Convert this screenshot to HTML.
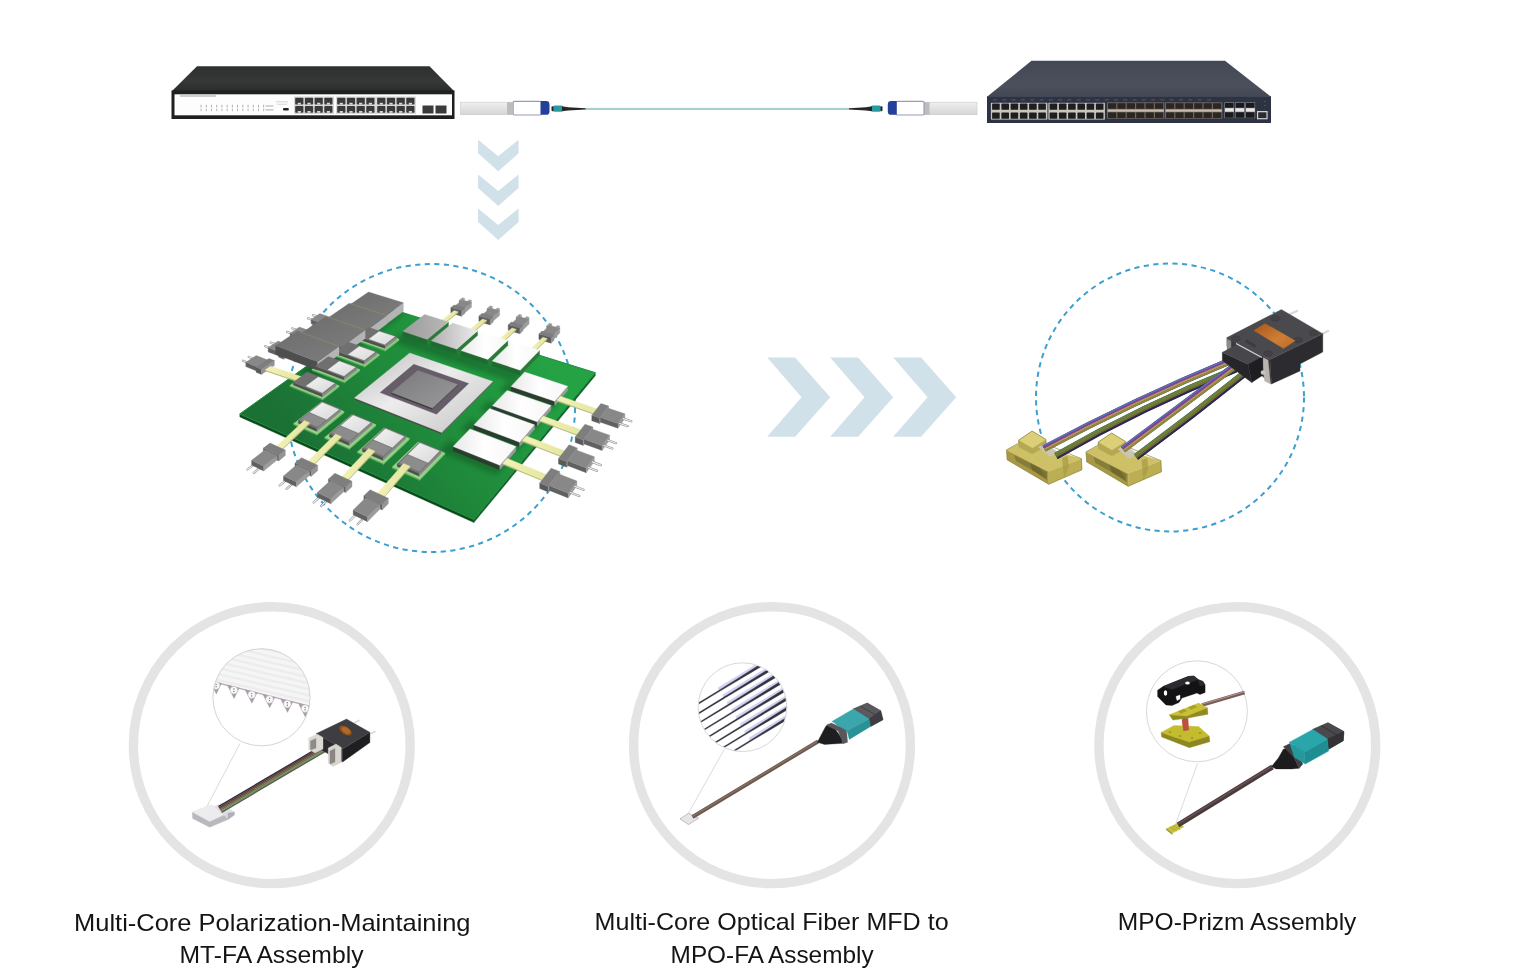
<!DOCTYPE html>
<html><head><meta charset="utf-8"><style>
html,body{margin:0;padding:0;background:#fff;width:1536px;height:980px;overflow:hidden}
svg{display:block;position:absolute;left:0;top:0}
text{font-family:"Liberation Sans",sans-serif}
</style></head><body>
<svg width="1536" height="980" viewBox="0 0 1536 980">
<defs>
<linearGradient id="gTopL" x1="0" y1="0" x2="0" y2="1"><stop offset="0" stop-color="#2e302f"/><stop offset="0.6" stop-color="#363837"/><stop offset="1" stop-color="#2a2b2b"/></linearGradient>
<linearGradient id="gTopR" x1="0" y1="0" x2="0" y2="1"><stop offset="0" stop-color="#434856"/><stop offset="0.7" stop-color="#4c505c"/><stop offset="1" stop-color="#424755"/></linearGradient>
<linearGradient id="gSilver" x1="0" y1="0" x2="0" y2="1"><stop offset="0" stop-color="#f0f0f0"/><stop offset="0.5" stop-color="#e2e2e2"/><stop offset="1" stop-color="#d6d6d6"/></linearGradient>

<linearGradient id="gBoard" gradientUnits="userSpaceOnUse" x1="330" y1="480" x2="520" y2="330"><stop offset="0" stop-color="#1b7034"/><stop offset="0.45" stop-color="#1f8a3b"/><stop offset="1" stop-color="#24a244"/></linearGradient>
<filter id="fSh" x="-20%" y="-20%" width="140%" height="140%"><feGaussianBlur stdDeviation="2.5"/></filter>
<linearGradient id="gChip" x1="0" y1="0" x2="1" y2="1"><stop offset="0" stop-color="#bdbdbd"/><stop offset="0.45" stop-color="#ececec"/><stop offset="1" stop-color="#c4c4c4"/></linearGradient>
<linearGradient id="gDie" x1="0" y1="0" x2="1" y2="1"><stop offset="0" stop-color="#7a7a7c"/><stop offset="1" stop-color="#9a9a9c"/></linearGradient>
<linearGradient id="gWhite" x1="0" y1="0" x2="1" y2="1"><stop offset="0" stop-color="#f4f4f4"/><stop offset="1" stop-color="#d8d8d8"/></linearGradient>
<linearGradient id="gWhite2" x1="0" y1="0" x2="1" y2="0"><stop offset="0" stop-color="#e8e8e8"/><stop offset="0.5" stop-color="#ffffff"/><stop offset="1" stop-color="#f6f6f6"/></linearGradient>
<linearGradient id="gTR1" x1="0" y1="0" x2="1" y2="0"><stop offset="0" stop-color="#9c9c9c"/><stop offset="1" stop-color="#b8b8b8"/></linearGradient>
<linearGradient id="gTR2" x1="0" y1="0" x2="1" y2="0"><stop offset="0" stop-color="#b0b0b0"/><stop offset="1" stop-color="#ececec"/></linearGradient>
<linearGradient id="gHS" x1="0" y1="0" x2="1" y2="1"><stop offset="0" stop-color="#6e6e6e"/><stop offset="1" stop-color="#7c7c7c"/></linearGradient>
<linearGradient id="gFib" x1="0" y1="0" x2="1" y2="0"><stop offset="0" stop-color="#f2f2b6"/><stop offset="1" stop-color="#e4e6a0"/></linearGradient>

<linearGradient id="gOrange" x1="0" y1="0" x2="1" y2="1"><stop offset="0" stop-color="#a8561a"/><stop offset="0.6" stop-color="#cf7f34"/><stop offset="1" stop-color="#b86a28"/></linearGradient>
</defs>
<polygon points="197,66.3 429.5,66.3 454.5,91.5 171.5,91.5" fill="url(#gTopL)"/>
<rect x="171.5" y="90.5" width="283" height="28.5" fill="#1f1f1f"/>
<rect x="174.5" y="94.3" width="277.5" height="21" fill="#fdfdfd"/>
<rect x="180" y="95.6" width="36" height="0.8" fill="#8a8a8a"/>
<rect x="200.6" y="104.8" width="0.9" height="2.6" fill="#a6a6a6"/>
<rect x="200.6" y="108.6" width="0.9" height="2.6" fill="#b0b0b0"/>
<rect x="205.8" y="104.8" width="0.9" height="2.6" fill="#a6a6a6"/>
<rect x="205.8" y="108.6" width="0.9" height="2.6" fill="#b0b0b0"/>
<rect x="211.0" y="104.8" width="0.9" height="2.6" fill="#a6a6a6"/>
<rect x="211.0" y="108.6" width="0.9" height="2.6" fill="#b0b0b0"/>
<rect x="216.3" y="104.8" width="0.9" height="2.6" fill="#a6a6a6"/>
<rect x="216.3" y="108.6" width="0.9" height="2.6" fill="#b0b0b0"/>
<rect x="221.5" y="104.8" width="0.9" height="2.6" fill="#a6a6a6"/>
<rect x="221.5" y="108.6" width="0.9" height="2.6" fill="#b0b0b0"/>
<rect x="226.7" y="104.8" width="0.9" height="2.6" fill="#a6a6a6"/>
<rect x="226.7" y="108.6" width="0.9" height="2.6" fill="#b0b0b0"/>
<rect x="231.9" y="104.8" width="0.9" height="2.6" fill="#a6a6a6"/>
<rect x="231.9" y="108.6" width="0.9" height="2.6" fill="#b0b0b0"/>
<rect x="237.1" y="104.8" width="0.9" height="2.6" fill="#a6a6a6"/>
<rect x="237.1" y="108.6" width="0.9" height="2.6" fill="#b0b0b0"/>
<rect x="242.4" y="104.8" width="0.9" height="2.6" fill="#a6a6a6"/>
<rect x="242.4" y="108.6" width="0.9" height="2.6" fill="#b0b0b0"/>
<rect x="247.6" y="104.8" width="0.9" height="2.6" fill="#a6a6a6"/>
<rect x="247.6" y="108.6" width="0.9" height="2.6" fill="#b0b0b0"/>
<rect x="252.8" y="104.8" width="0.9" height="2.6" fill="#a6a6a6"/>
<rect x="252.8" y="108.6" width="0.9" height="2.6" fill="#b0b0b0"/>
<rect x="258.0" y="104.8" width="0.9" height="2.6" fill="#a6a6a6"/>
<rect x="258.0" y="108.6" width="0.9" height="2.6" fill="#b0b0b0"/>
<rect x="263.2" y="104.8" width="0.9" height="2.6" fill="#a6a6a6"/>
<rect x="263.2" y="108.6" width="0.9" height="2.6" fill="#b0b0b0"/>
<rect x="265.5" y="105.6" width="8" height="0.8" fill="#9a9a9a"/>
<rect x="265.5" y="109.5" width="8" height="0.8" fill="#9a9a9a"/>
<rect x="276" y="101.5" width="12" height="0.7" fill="#c4c4c4"/>
<rect x="277" y="103.8" width="10" height="0.7" fill="#c4c4c4"/>
<rect x="283" y="108" width="5.8" height="2.4" rx="1" fill="#222"/>
<rect x="294" y="96.5" width="40" height="17.5" fill="#d8d8d8"/>
<rect x="295.2" y="97.8" width="8.2" height="6.8" rx="0.8" fill="#3a3a3a"/>
<rect x="297.7" y="102.8" width="3.2" height="1.8" fill="#d8d8d8"/>
<rect x="304.9" y="97.8" width="8.2" height="6.8" rx="0.8" fill="#3a3a3a"/>
<rect x="307.4" y="102.8" width="3.2" height="1.8" fill="#d8d8d8"/>
<rect x="314.6" y="97.8" width="8.2" height="6.8" rx="0.8" fill="#3a3a3a"/>
<rect x="317.1" y="102.8" width="3.2" height="1.8" fill="#d8d8d8"/>
<rect x="324.3" y="97.8" width="8.2" height="6.8" rx="0.8" fill="#3a3a3a"/>
<rect x="326.8" y="102.8" width="3.2" height="1.8" fill="#d8d8d8"/>
<rect x="295.2" y="106.0" width="8.2" height="6.8" rx="0.8" fill="#3a3a3a"/>
<rect x="297.7" y="111.0" width="3.2" height="1.8" fill="#d8d8d8"/>
<rect x="304.9" y="106.0" width="8.2" height="6.8" rx="0.8" fill="#3a3a3a"/>
<rect x="307.4" y="111.0" width="3.2" height="1.8" fill="#d8d8d8"/>
<rect x="314.6" y="106.0" width="8.2" height="6.8" rx="0.8" fill="#3a3a3a"/>
<rect x="317.1" y="111.0" width="3.2" height="1.8" fill="#d8d8d8"/>
<rect x="324.3" y="106.0" width="8.2" height="6.8" rx="0.8" fill="#3a3a3a"/>
<rect x="326.8" y="111.0" width="3.2" height="1.8" fill="#d8d8d8"/>
<rect x="336" y="96.5" width="40" height="17.5" fill="#d8d8d8"/>
<rect x="337.2" y="97.8" width="8.2" height="6.8" rx="0.8" fill="#3a3a3a"/>
<rect x="339.7" y="102.8" width="3.2" height="1.8" fill="#d8d8d8"/>
<rect x="346.9" y="97.8" width="8.2" height="6.8" rx="0.8" fill="#3a3a3a"/>
<rect x="349.4" y="102.8" width="3.2" height="1.8" fill="#d8d8d8"/>
<rect x="356.6" y="97.8" width="8.2" height="6.8" rx="0.8" fill="#3a3a3a"/>
<rect x="359.1" y="102.8" width="3.2" height="1.8" fill="#d8d8d8"/>
<rect x="366.3" y="97.8" width="8.2" height="6.8" rx="0.8" fill="#3a3a3a"/>
<rect x="368.8" y="102.8" width="3.2" height="1.8" fill="#d8d8d8"/>
<rect x="337.2" y="106.0" width="8.2" height="6.8" rx="0.8" fill="#3a3a3a"/>
<rect x="339.7" y="111.0" width="3.2" height="1.8" fill="#d8d8d8"/>
<rect x="346.9" y="106.0" width="8.2" height="6.8" rx="0.8" fill="#3a3a3a"/>
<rect x="349.4" y="111.0" width="3.2" height="1.8" fill="#d8d8d8"/>
<rect x="356.6" y="106.0" width="8.2" height="6.8" rx="0.8" fill="#3a3a3a"/>
<rect x="359.1" y="111.0" width="3.2" height="1.8" fill="#d8d8d8"/>
<rect x="366.3" y="106.0" width="8.2" height="6.8" rx="0.8" fill="#3a3a3a"/>
<rect x="368.8" y="111.0" width="3.2" height="1.8" fill="#d8d8d8"/>
<rect x="376" y="96.5" width="40" height="17.5" fill="#d8d8d8"/>
<rect x="377.2" y="97.8" width="8.2" height="6.8" rx="0.8" fill="#3a3a3a"/>
<rect x="379.7" y="102.8" width="3.2" height="1.8" fill="#d8d8d8"/>
<rect x="386.9" y="97.8" width="8.2" height="6.8" rx="0.8" fill="#3a3a3a"/>
<rect x="389.4" y="102.8" width="3.2" height="1.8" fill="#d8d8d8"/>
<rect x="396.6" y="97.8" width="8.2" height="6.8" rx="0.8" fill="#3a3a3a"/>
<rect x="399.1" y="102.8" width="3.2" height="1.8" fill="#d8d8d8"/>
<rect x="406.3" y="97.8" width="8.2" height="6.8" rx="0.8" fill="#3a3a3a"/>
<rect x="408.8" y="102.8" width="3.2" height="1.8" fill="#d8d8d8"/>
<rect x="377.2" y="106.0" width="8.2" height="6.8" rx="0.8" fill="#3a3a3a"/>
<rect x="379.7" y="111.0" width="3.2" height="1.8" fill="#d8d8d8"/>
<rect x="386.9" y="106.0" width="8.2" height="6.8" rx="0.8" fill="#3a3a3a"/>
<rect x="389.4" y="111.0" width="3.2" height="1.8" fill="#d8d8d8"/>
<rect x="396.6" y="106.0" width="8.2" height="6.8" rx="0.8" fill="#3a3a3a"/>
<rect x="399.1" y="111.0" width="3.2" height="1.8" fill="#d8d8d8"/>
<rect x="406.3" y="106.0" width="8.2" height="6.8" rx="0.8" fill="#3a3a3a"/>
<rect x="408.8" y="111.0" width="3.2" height="1.8" fill="#d8d8d8"/>
<rect x="422.5" y="105.5" width="11" height="8" fill="#3a3a3a"/>
<rect x="435.5" y="105.5" width="11" height="8" fill="#3a3a3a"/>
<polygon points="1031.5,60.8 1225,60.8 1271,96.8 987,96.8" fill="url(#gTopR)"/>
<rect x="987" y="96.3" width="284" height="26.7" fill="#2e3343"/>
<rect x="993.0" y="99.5" width="4" height="0.8" fill="#5c6272"/>
<rect x="1002.3" y="99.5" width="4" height="0.8" fill="#5c6272"/>
<rect x="1011.6" y="99.5" width="4" height="0.8" fill="#5c6272"/>
<rect x="1020.9" y="99.5" width="4" height="0.8" fill="#5c6272"/>
<rect x="1030.2" y="99.5" width="4" height="0.8" fill="#5c6272"/>
<rect x="1039.5" y="99.5" width="4" height="0.8" fill="#5c6272"/>
<rect x="1048.8" y="99.5" width="4" height="0.8" fill="#5c6272"/>
<rect x="1058.1" y="99.5" width="4" height="0.8" fill="#5c6272"/>
<rect x="1067.4" y="99.5" width="4" height="0.8" fill="#5c6272"/>
<rect x="1076.7" y="99.5" width="4" height="0.8" fill="#5c6272"/>
<rect x="1086.0" y="99.5" width="4" height="0.8" fill="#5c6272"/>
<rect x="1095.3" y="99.5" width="4" height="0.8" fill="#5c6272"/>
<rect x="1104.6" y="99.5" width="4" height="0.8" fill="#5c6272"/>
<rect x="1113.9" y="99.5" width="4" height="0.8" fill="#5c6272"/>
<rect x="1123.2" y="99.5" width="4" height="0.8" fill="#5c6272"/>
<rect x="1132.5" y="99.5" width="4" height="0.8" fill="#5c6272"/>
<rect x="1141.8" y="99.5" width="4" height="0.8" fill="#5c6272"/>
<rect x="1151.1" y="99.5" width="4" height="0.8" fill="#5c6272"/>
<rect x="1160.4" y="99.5" width="4" height="0.8" fill="#5c6272"/>
<rect x="1169.7" y="99.5" width="4" height="0.8" fill="#5c6272"/>
<rect x="1179.0" y="99.5" width="4" height="0.8" fill="#5c6272"/>
<rect x="1188.3" y="99.5" width="4" height="0.8" fill="#5c6272"/>
<rect x="1197.6" y="99.5" width="4" height="0.8" fill="#5c6272"/>
<rect x="1206.9" y="99.5" width="4" height="0.8" fill="#5c6272"/>
<rect x="990.9" y="102.8" width="56.5" height="16.8" fill="#c9c6bb"/>
<rect x="992.1" y="103.6" width="7.6" height="6.2" rx="0.6" fill="#1e1e22"/>
<rect x="1001.4" y="103.6" width="7.6" height="6.2" rx="0.6" fill="#1e1e22"/>
<rect x="1010.6" y="103.6" width="7.6" height="6.2" rx="0.6" fill="#1e1e22"/>
<rect x="1019.9" y="103.6" width="7.6" height="6.2" rx="0.6" fill="#1e1e22"/>
<rect x="1029.1" y="103.6" width="7.6" height="6.2" rx="0.6" fill="#1e1e22"/>
<rect x="1038.3" y="103.6" width="7.6" height="6.2" rx="0.6" fill="#1e1e22"/>
<rect x="992.1" y="112.6" width="7.6" height="6.2" rx="0.6" fill="#1e1e22"/>
<rect x="1001.4" y="112.6" width="7.6" height="6.2" rx="0.6" fill="#1e1e22"/>
<rect x="1010.6" y="112.6" width="7.6" height="6.2" rx="0.6" fill="#1e1e22"/>
<rect x="1019.9" y="112.6" width="7.6" height="6.2" rx="0.6" fill="#1e1e22"/>
<rect x="1029.1" y="112.6" width="7.6" height="6.2" rx="0.6" fill="#1e1e22"/>
<rect x="1038.3" y="112.6" width="7.6" height="6.2" rx="0.6" fill="#1e1e22"/>
<rect x="1048.4" y="102.8" width="56.5" height="16.8" fill="#c9c6bb"/>
<rect x="1049.6" y="103.6" width="7.6" height="6.2" rx="0.6" fill="#1e1e22"/>
<rect x="1058.9" y="103.6" width="7.6" height="6.2" rx="0.6" fill="#1e1e22"/>
<rect x="1068.1" y="103.6" width="7.6" height="6.2" rx="0.6" fill="#1e1e22"/>
<rect x="1077.4" y="103.6" width="7.6" height="6.2" rx="0.6" fill="#1e1e22"/>
<rect x="1086.6" y="103.6" width="7.6" height="6.2" rx="0.6" fill="#1e1e22"/>
<rect x="1095.9" y="103.6" width="7.6" height="6.2" rx="0.6" fill="#1e1e22"/>
<rect x="1049.6" y="112.6" width="7.6" height="6.2" rx="0.6" fill="#1e1e22"/>
<rect x="1058.9" y="112.6" width="7.6" height="6.2" rx="0.6" fill="#1e1e22"/>
<rect x="1068.1" y="112.6" width="7.6" height="6.2" rx="0.6" fill="#1e1e22"/>
<rect x="1077.4" y="112.6" width="7.6" height="6.2" rx="0.6" fill="#1e1e22"/>
<rect x="1086.6" y="112.6" width="7.6" height="6.2" rx="0.6" fill="#1e1e22"/>
<rect x="1095.9" y="112.6" width="7.6" height="6.2" rx="0.6" fill="#1e1e22"/>
<rect x="1107" y="102.3" width="57.3" height="16.4" fill="#6f6760"/>
<rect x="1108.0" y="103.2" width="8.2" height="5.6" fill="#2c2622"/>
<rect x="1117.4" y="103.2" width="8.2" height="5.6" fill="#2c2622"/>
<rect x="1126.8" y="103.2" width="8.2" height="5.6" fill="#2c2622"/>
<rect x="1136.2" y="103.2" width="8.2" height="5.6" fill="#2c2622"/>
<rect x="1145.6" y="103.2" width="8.2" height="5.6" fill="#2c2622"/>
<rect x="1155.0" y="103.2" width="8.2" height="5.6" fill="#2c2622"/>
<rect x="1108.0" y="112.4" width="8.2" height="5.6" fill="#2c2622"/>
<rect x="1117.4" y="112.4" width="8.2" height="5.6" fill="#2c2622"/>
<rect x="1126.8" y="112.4" width="8.2" height="5.6" fill="#2c2622"/>
<rect x="1136.2" y="112.4" width="8.2" height="5.6" fill="#2c2622"/>
<rect x="1145.6" y="112.4" width="8.2" height="5.6" fill="#2c2622"/>
<rect x="1155.0" y="112.4" width="8.2" height="5.6" fill="#2c2622"/>
<rect x="1107.5" y="109.5" width="56.3" height="2.2" fill="#c8beb0"/>
<rect x="1165" y="102.3" width="57.3" height="16.4" fill="#6f6760"/>
<rect x="1166.0" y="103.2" width="8.2" height="5.6" fill="#2c2622"/>
<rect x="1175.4" y="103.2" width="8.2" height="5.6" fill="#2c2622"/>
<rect x="1184.8" y="103.2" width="8.2" height="5.6" fill="#2c2622"/>
<rect x="1194.2" y="103.2" width="8.2" height="5.6" fill="#2c2622"/>
<rect x="1203.6" y="103.2" width="8.2" height="5.6" fill="#2c2622"/>
<rect x="1213.0" y="103.2" width="8.2" height="5.6" fill="#2c2622"/>
<rect x="1166.0" y="112.4" width="8.2" height="5.6" fill="#2c2622"/>
<rect x="1175.4" y="112.4" width="8.2" height="5.6" fill="#2c2622"/>
<rect x="1184.8" y="112.4" width="8.2" height="5.6" fill="#2c2622"/>
<rect x="1194.2" y="112.4" width="8.2" height="5.6" fill="#2c2622"/>
<rect x="1203.6" y="112.4" width="8.2" height="5.6" fill="#2c2622"/>
<rect x="1213.0" y="112.4" width="8.2" height="5.6" fill="#2c2622"/>
<rect x="1165.5" y="109.5" width="56.3" height="2.2" fill="#c8beb0"/>
<rect x="1224.5" y="102.3" width="9.6" height="15.8" fill="#9a9a9e"/>
<rect x="1225.0" y="102.8" width="8.6" height="5" fill="#1a1a1e"/>
<rect x="1225.0" y="108.3" width="8.6" height="3.2" fill="#e8e6e2"/>
<rect x="1225.0" y="112.2" width="8.6" height="5.6" fill="#1a1a1e"/>
<rect x="1235.0" y="102.3" width="9.6" height="15.8" fill="#9a9a9e"/>
<rect x="1235.5" y="102.8" width="8.6" height="5" fill="#1a1a1e"/>
<rect x="1235.5" y="108.3" width="8.6" height="3.2" fill="#e8e6e2"/>
<rect x="1235.5" y="112.2" width="8.6" height="5.6" fill="#1a1a1e"/>
<rect x="1245.5" y="102.3" width="9.6" height="15.8" fill="#9a9a9e"/>
<rect x="1246.0" y="102.8" width="8.6" height="5" fill="#1a1a1e"/>
<rect x="1246.0" y="108.3" width="8.6" height="3.2" fill="#e8e6e2"/>
<rect x="1246.0" y="112.2" width="8.6" height="5.6" fill="#1a1a1e"/>
<rect x="1257" y="111" width="10.6" height="8.3" fill="#cfcfd2"/>
<rect x="1258.2" y="112.3" width="8.2" height="5.8" fill="#2a2a30"/>
<circle cx="1265" cy="101.5" r="0.6" fill="#777"/><circle cx="1265" cy="105.5" r="0.6" fill="#777"/>
<rect x="585" y="107.9" width="264.5" height="2.1" fill="#a4cfd0"/>
<rect x="460.4" y="102.2" width="52.5" height="12.5" fill="url(#gSilver)" stroke="#c8c8c8" stroke-width="0.6"/>
<rect x="507" y="102.2" width="5.5" height="12.5" fill="#bdbdbd"/>
<rect x="513.2" y="101.4" width="28" height="13.6" rx="1.2" fill="#fff" stroke="#9a9ab8" stroke-width="1.1"/>
<path d="M540.6,101 h5.5 a3.4,3.4 0 0 1 3.4,3.4 v7 a3.4,3.4 0 0 1 -3.4,3.4 h-5.5 z" fill="#23409a"/>
<rect x="551.5" y="106.2" width="2.5" height="5" rx="1" fill="#2a2a2a"/>
<rect x="553.5" y="105.6" width="9" height="6.2" rx="1" fill="#2a9aa2"/>
<path d="M562,106.3 L568,107.3 L585.5,108.3 L585.5,109.4 L568,110.6 L562,111.2 z" fill="#262626"/>
<rect x="924" y="102.2" width="53" height="12.5" fill="url(#gSilver)" stroke="#c8c8c8" stroke-width="0.6"/>
<rect x="924" y="102.2" width="5.5" height="12.5" fill="#bdbdbd"/>
<rect x="896" y="101.4" width="28" height="13.6" rx="1.2" fill="#fff" stroke="#9a9ab8" stroke-width="1.1"/>
<path d="M896.7,101 h-5.5 a3.4,3.4 0 0 0 -3.4,3.4 v7 a3.4,3.4 0 0 0 3.4,3.4 h5.5 z" fill="#23409a"/>
<rect x="880" y="106.2" width="2.5" height="5" rx="1" fill="#2a2a2a"/>
<rect x="871.5" y="105.6" width="9" height="6.2" rx="1" fill="#2a9aa2"/>
<path d="M872,106.3 L866,107.3 L849,108.3 L849,109.4 L866,110.6 L872,111.2 z" fill="#262626"/>
<polygon points="478.1,139.8 498.2,156.3 518.6,139.8 518.6,153.3 498.2,171.3 478.1,153.3" fill="#d0e1e9"/>
<polygon points="478.1,174.5 498.2,191.0 518.6,174.5 518.6,188.0 498.2,206.0 478.1,188.0" fill="#d0e1e9"/>
<polygon points="478.1,208.5 498.2,225.0 518.6,208.5 518.6,222.0 498.2,240.0 478.1,222.0" fill="#d0e1e9"/>
<polygon points="767.2,357.5 795.1,357.5 830.2,397.3 795.1,436.7 767.2,436.7 801.6,397.3" fill="#d0e1e9"/>
<polygon points="830.2,357.5 858.1,357.5 893.2,397.3 858.1,436.7 830.2,436.7 864.6,397.3" fill="#d0e1e9"/>
<polygon points="893.2,357.5 921.1,357.5 956.2,397.3 921.1,436.7 893.2,436.7 927.6,397.3" fill="#d0e1e9"/>
<clipPath id="cBoard"><polygon points="239.8,413.9 473.9,519.6 595.3,372.7 388.0,308.0" fill="#000" stroke="#000" stroke-width="0.35" stroke-linejoin="round"/></clipPath><circle cx="431" cy="408" r="144" fill="none" stroke="#3d9fd0" stroke-width="2" stroke-dasharray="5.2 4.4"/>
<polygon points="239.8,413.9 473.9,519.6 473.9,522.6 239.8,416.9" fill="#0c4a1c" stroke="#0c4a1c" stroke-width="0.35" stroke-linejoin="round"/>
<polygon points="473.9,519.6 595.3,372.7 595.3,375.7 473.9,522.6" fill="#10602a" stroke="#10602a" stroke-width="0.35" stroke-linejoin="round"/>
<polygon points="239.8,413.9 473.9,519.6 595.3,372.7 388.0,308.0" fill="url(#gBoard)" stroke="#1d8a38" stroke-width="1" stroke-linejoin="round"/>
<g clip-path="url(#cBoard)" filter="url(#fSh)" opacity="0.35">
<polygon points="499.3,390.4 552.4,408.9 560.0,399.9 507.5,382.0" fill="#0a3a18" stroke="#0a3a18" stroke-width="0.35" stroke-linejoin="round"/>
<polygon points="480.1,410.0 534.5,429.9 542.7,420.2 489.0,401.0" fill="#0a3a18" stroke="#0a3a18" stroke-width="0.35" stroke-linejoin="round"/>
<polygon points="461.1,429.5 516.6,451.0 525.5,440.6 470.5,419.8" fill="#0a3a18" stroke="#0a3a18" stroke-width="0.35" stroke-linejoin="round"/>
<polygon points="439.6,451.5 496.4,474.8 506.0,463.5 449.8,441.1" fill="#0a3a18" stroke="#0a3a18" stroke-width="0.35" stroke-linejoin="round"/>
<polygon points="393.3,341.6 420.8,350.9 430.7,342.7 403.4,333.8" fill="#0a3a18" stroke="#0a3a18" stroke-width="0.35" stroke-linejoin="round"/>
<polygon points="421.8,351.2 450.6,360.9 460.2,352.4 431.7,343.1" fill="#0a3a18" stroke="#0a3a18" stroke-width="0.35" stroke-linejoin="round"/>
<polygon points="451.7,361.3 481.8,371.5 491.2,362.6 461.3,352.8" fill="#0a3a18" stroke="#0a3a18" stroke-width="0.35" stroke-linejoin="round"/>
<polygon points="483.0,371.9 514.6,382.6 523.6,373.3 492.2,363.0" fill="#0a3a18" stroke="#0a3a18" stroke-width="0.35" stroke-linejoin="round"/>
<polygon points="300.5,370.5 317.6,377.2 404.2,313.1 388.0,308.0" fill="#0a3a18" stroke="#0a3a18" stroke-width="0.35" stroke-linejoin="round"/>
</g>
<polygon points="354.4,399.5 441.5,434.0 441.5,432.4 354.4,397.9" fill="#4a4a4a" stroke="#4a4a4a" stroke-width="0.35" stroke-linejoin="round"/>
<polygon points="441.5,434.0 492.8,383.0 492.8,381.4 441.5,432.4" fill="#6a6a6a" stroke="#6a6a6a" stroke-width="0.35" stroke-linejoin="round"/>
<polygon points="354.4,397.9 441.5,432.4 492.8,381.4 409.7,353.0" fill="url(#gChip)" stroke="url(#gChip)" stroke-width="0.35" stroke-linejoin="round"/>
<polygon points="380.1,392.6 436.5,414.2 468.7,383.5 413.8,364.3" fill="#675d69" stroke="#675d69" stroke-width="0.35" stroke-linejoin="round"/>
<polygon points="391.7,394.0 432.4,409.4 432.4,408.0 391.7,392.6" fill="#3c383e" stroke="#3c383e" stroke-width="0.35" stroke-linejoin="round"/>
<polygon points="432.4,409.4 457.6,385.9 457.6,384.5 432.4,408.0" fill="#55505a" stroke="#55505a" stroke-width="0.35" stroke-linejoin="round"/>
<polygon points="391.7,392.6 432.4,408.0 457.6,384.5 417.8,370.4" fill="url(#gDie)" stroke="url(#gDie)" stroke-width="0.35" stroke-linejoin="round"/>
<polygon points="459.2,302.5 461.4,303.2 461.4,301.0 459.2,300.3" fill="#707070" stroke="#707070" stroke-width="0.35" stroke-linejoin="round"/>
<polygon points="461.4,303.2 464.6,300.6 464.6,298.4 461.4,301.0" fill="#a8a8a8" stroke="#a8a8a8" stroke-width="0.35" stroke-linejoin="round"/>
<polygon points="459.2,300.3 461.4,301.0 464.6,298.4 462.4,297.7" fill="#9a9a9a" stroke="#9a9a9a" stroke-width="0.35" stroke-linejoin="round"/>
<polygon points="466.0,304.5 468.3,305.2 468.3,303.0 466.0,302.3" fill="#707070" stroke="#707070" stroke-width="0.35" stroke-linejoin="round"/>
<polygon points="468.3,305.2 471.5,302.6 471.5,300.4 468.3,303.0" fill="#a8a8a8" stroke="#a8a8a8" stroke-width="0.35" stroke-linejoin="round"/>
<polygon points="466.0,302.3 468.3,303.0 471.5,300.4 469.2,299.7" fill="#9a9a9a" stroke="#9a9a9a" stroke-width="0.35" stroke-linejoin="round"/>
<polygon points="454.9,310.7 464.0,313.4 464.0,308.7 454.9,306.0" fill="#606060" stroke="#606060" stroke-width="0.35" stroke-linejoin="round"/>
<polygon points="464.0,313.4 471.5,307.3 471.5,302.6 464.0,308.7" fill="#9c9c9c" stroke="#9c9c9c" stroke-width="0.35" stroke-linejoin="round"/>
<polygon points="454.9,306.0 464.0,308.7 471.5,302.6 462.4,299.9" fill="#888888" stroke="#888888" stroke-width="0.35" stroke-linejoin="round"/>
<polygon points="450.8,313.1 461.5,316.3 461.5,310.8 450.8,307.6" fill="#5a5a5a" stroke="#5a5a5a" stroke-width="0.35" stroke-linejoin="round"/>
<polygon points="461.5,316.3 464.8,313.6 464.8,308.1 461.5,310.8" fill="#949494" stroke="#949494" stroke-width="0.35" stroke-linejoin="round"/>
<polygon points="450.8,307.6 461.5,310.8 464.8,308.1 454.1,304.9" fill="#7e7e7e" stroke="#7e7e7e" stroke-width="0.35" stroke-linejoin="round"/>
<polygon points="442.3,324.1 458.1,311.7 458.1,312.9 442.3,325.3" fill="#b9b878" stroke="#b9b878" stroke-width="0.35" stroke-linejoin="round"/><polygon points="438.5,322.8 442.3,324.1 458.1,311.7 454.2,310.6" fill="url(#gFib)" stroke="url(#gFib)" stroke-width="0.35" stroke-linejoin="round"/>
<polygon points="487.1,310.7 489.4,311.4 489.4,309.2 487.1,308.5" fill="#707070" stroke="#707070" stroke-width="0.35" stroke-linejoin="round"/>
<polygon points="489.4,311.4 492.5,308.7 492.5,306.5 489.4,309.2" fill="#a8a8a8" stroke="#a8a8a8" stroke-width="0.35" stroke-linejoin="round"/>
<polygon points="487.1,308.5 489.4,309.2 492.5,306.5 490.2,305.8" fill="#9a9a9a" stroke="#9a9a9a" stroke-width="0.35" stroke-linejoin="round"/>
<polygon points="494.2,312.8 496.6,313.5 496.6,311.3 494.2,310.6" fill="#707070" stroke="#707070" stroke-width="0.35" stroke-linejoin="round"/>
<polygon points="496.6,313.5 499.6,310.8 499.6,308.6 496.6,311.3" fill="#a8a8a8" stroke="#a8a8a8" stroke-width="0.35" stroke-linejoin="round"/>
<polygon points="494.2,310.6 496.6,311.3 499.6,308.6 497.3,307.9" fill="#9a9a9a" stroke="#9a9a9a" stroke-width="0.35" stroke-linejoin="round"/>
<polygon points="482.9,319.0 492.4,321.8 492.4,317.1 482.9,314.3" fill="#606060" stroke="#606060" stroke-width="0.35" stroke-linejoin="round"/>
<polygon points="492.4,321.8 499.6,315.5 499.6,310.8 492.4,317.1" fill="#9c9c9c" stroke="#9c9c9c" stroke-width="0.35" stroke-linejoin="round"/>
<polygon points="482.9,314.3 492.4,317.1 499.6,310.8 490.2,308.0" fill="#888888" stroke="#888888" stroke-width="0.35" stroke-linejoin="round"/>
<polygon points="478.9,321.5 490.1,324.9 490.1,319.4 478.9,316.0" fill="#5a5a5a" stroke="#5a5a5a" stroke-width="0.35" stroke-linejoin="round"/>
<polygon points="490.1,324.9 493.2,322.1 493.2,316.6 490.1,319.4" fill="#949494" stroke="#949494" stroke-width="0.35" stroke-linejoin="round"/>
<polygon points="478.9,316.0 490.1,319.4 493.2,316.6 482.1,313.3" fill="#7e7e7e" stroke="#7e7e7e" stroke-width="0.35" stroke-linejoin="round"/>
<polygon points="351.0,312.4 386.4,323.9 386.4,315.4 351.0,303.9" fill="#4e4e4e" stroke="#4e4e4e" stroke-width="0.35" stroke-linejoin="round"/>
<polygon points="386.4,323.9 403.4,311.3 403.4,302.8 386.4,315.4" fill="#b4b4b4" stroke="#b4b4b4" stroke-width="0.35" stroke-linejoin="round"/>
<polygon points="351.0,303.9 386.4,315.4 403.4,302.8 368.5,292.0" fill="url(#gHS)" stroke="url(#gHS)" stroke-width="0.35" stroke-linejoin="round"/>
<line x1="313.0" y1="320.1" x2="307.9" y2="318.3" stroke="#8a8a8a" stroke-width="2.2" stroke-linecap="round"/><line x1="313.0" y1="320.1" x2="307.9" y2="318.3" stroke="#eeeeee" stroke-width="1.2" stroke-linecap="round"/><line x1="317.9" y1="316.9" x2="312.9" y2="315.1" stroke="#8a8a8a" stroke-width="2.2" stroke-linecap="round"/><line x1="317.9" y1="316.9" x2="312.9" y2="315.1" stroke="#eeeeee" stroke-width="1.2" stroke-linecap="round"/>
<polygon points="311.1,323.7 322.3,327.6 322.3,323.3 311.1,319.4" fill="#606060" stroke="#606060" stroke-width="0.35" stroke-linejoin="round"/>
<polygon points="322.3,327.6 331.0,321.7 331.0,317.4 322.3,323.3" fill="#9c9c9c" stroke="#9c9c9c" stroke-width="0.35" stroke-linejoin="round"/>
<polygon points="311.1,319.4 322.3,323.3 331.0,317.4 319.8,313.6" fill="#888888" stroke="#888888" stroke-width="0.35" stroke-linejoin="round"/>
<polygon points="321.2,328.3 326.5,330.1 326.5,325.1 321.2,323.3" fill="#5a5a5a" stroke="#5a5a5a" stroke-width="0.35" stroke-linejoin="round"/>
<polygon points="326.5,330.1 337.3,322.7 337.3,317.7 326.5,325.1" fill="#949494" stroke="#949494" stroke-width="0.35" stroke-linejoin="round"/>
<polygon points="321.2,323.3 326.5,325.1 337.3,317.7 332.1,316.0" fill="#7e7e7e" stroke="#7e7e7e" stroke-width="0.35" stroke-linejoin="round"/>
<polygon points="471.2,333.1 486.5,320.3 486.5,321.5 471.2,334.3" fill="#b9b878" stroke="#b9b878" stroke-width="0.35" stroke-linejoin="round"/><polygon points="467.1,331.8 471.2,333.1 486.5,320.3 482.5,319.1" fill="url(#gFib)" stroke="url(#gFib)" stroke-width="0.35" stroke-linejoin="round"/>
<polygon points="402.8,336.3 427.2,344.4 427.2,339.4 402.8,331.3" fill="#1f6a30" stroke="#1f6a30" stroke-width="0.35" stroke-linejoin="round"/>
<polygon points="427.2,344.4 448.5,326.9 448.5,321.9 427.2,339.4" fill="#2c7a3a" stroke="#2c7a3a" stroke-width="0.35" stroke-linejoin="round"/>
<polygon points="402.8,331.3 427.2,339.4 448.5,321.9 424.6,314.4" fill="url(#gTR1)" stroke="url(#gTR1)" stroke-width="0.35" stroke-linejoin="round"/>
<polygon points="516.2,319.3 518.6,320.0 518.6,317.8 516.2,317.1" fill="#707070" stroke="#707070" stroke-width="0.35" stroke-linejoin="round"/>
<polygon points="518.6,320.0 521.6,317.2 521.6,315.0 518.6,317.8" fill="#a8a8a8" stroke="#a8a8a8" stroke-width="0.35" stroke-linejoin="round"/>
<polygon points="516.2,317.1 518.6,317.8 521.6,315.0 519.2,314.3" fill="#9a9a9a" stroke="#9a9a9a" stroke-width="0.35" stroke-linejoin="round"/>
<polygon points="523.6,321.4 526.1,322.2 526.1,320.0 523.6,319.2" fill="#707070" stroke="#707070" stroke-width="0.35" stroke-linejoin="round"/>
<polygon points="526.1,322.2 529.1,319.4 529.1,317.2 526.1,320.0" fill="#a8a8a8" stroke="#a8a8a8" stroke-width="0.35" stroke-linejoin="round"/>
<polygon points="523.6,319.2 526.1,320.0 529.1,317.2 526.6,316.4" fill="#9a9a9a" stroke="#9a9a9a" stroke-width="0.35" stroke-linejoin="round"/>
<polygon points="512.1,327.7 522.1,330.7 522.1,326.0 512.1,323.0" fill="#606060" stroke="#606060" stroke-width="0.35" stroke-linejoin="round"/>
<polygon points="522.1,330.7 529.1,324.1 529.1,319.4 522.1,326.0" fill="#9c9c9c" stroke="#9c9c9c" stroke-width="0.35" stroke-linejoin="round"/>
<polygon points="512.1,323.0 522.1,326.0 529.1,319.4 519.2,316.5" fill="#888888" stroke="#888888" stroke-width="0.35" stroke-linejoin="round"/>
<polygon points="508.2,330.3 519.9,333.8 519.9,328.3 508.2,324.8" fill="#5a5a5a" stroke="#5a5a5a" stroke-width="0.35" stroke-linejoin="round"/>
<polygon points="519.9,333.8 522.9,330.9 522.9,325.4 519.9,328.3" fill="#949494" stroke="#949494" stroke-width="0.35" stroke-linejoin="round"/>
<polygon points="508.2,324.8 519.9,328.3 522.9,325.4 511.3,322.0" fill="#7e7e7e" stroke="#7e7e7e" stroke-width="0.35" stroke-linejoin="round"/>
<polygon points="501.4,342.6 516.1,329.2 516.1,330.4 501.4,343.8" fill="#b9b878" stroke="#b9b878" stroke-width="0.35" stroke-linejoin="round"/><polygon points="497.1,341.3 501.4,342.6 516.1,329.2 512.0,327.9" fill="url(#gFib)" stroke="url(#gFib)" stroke-width="0.35" stroke-linejoin="round"/>
<polygon points="431.2,345.7 456.8,354.2 456.8,349.2 431.2,340.7" fill="#1f6a30" stroke="#1f6a30" stroke-width="0.35" stroke-linejoin="round"/>
<polygon points="456.8,354.2 477.5,335.9 477.5,330.9 456.8,349.2" fill="#2c7a3a" stroke="#2c7a3a" stroke-width="0.35" stroke-linejoin="round"/>
<polygon points="431.2,340.7 456.8,349.2 477.5,330.9 452.5,323.1" fill="url(#gTR2)" stroke="url(#gTR2)" stroke-width="0.35" stroke-linejoin="round"/>
<polygon points="328.6,325.9 366.5,338.9 366.5,330.4 328.6,317.4" fill="#4e4e4e" stroke="#4e4e4e" stroke-width="0.35" stroke-linejoin="round"/>
<polygon points="366.5,338.9 386.8,324.0 386.8,315.5 366.5,330.4" fill="#b4b4b4" stroke="#b4b4b4" stroke-width="0.35" stroke-linejoin="round"/>
<polygon points="328.6,317.4 366.5,330.4 386.8,315.5 349.3,303.3" fill="url(#gHS)" stroke="url(#gHS)" stroke-width="0.35" stroke-linejoin="round"/>
<line x1="292.2" y1="333.8" x2="287.0" y2="331.9" stroke="#8a8a8a" stroke-width="2.2" stroke-linecap="round"/><line x1="292.2" y1="333.8" x2="287.0" y2="331.9" stroke="#eeeeee" stroke-width="1.2" stroke-linecap="round"/><line x1="297.4" y1="330.4" x2="292.3" y2="328.5" stroke="#8a8a8a" stroke-width="2.2" stroke-linecap="round"/><line x1="297.4" y1="330.4" x2="292.3" y2="328.5" stroke="#eeeeee" stroke-width="1.2" stroke-linecap="round"/>
<polygon points="290.1,337.5 301.5,341.6 301.5,337.3 290.1,333.2" fill="#606060" stroke="#606060" stroke-width="0.35" stroke-linejoin="round"/>
<polygon points="301.5,341.6 310.7,335.4 310.7,331.1 301.5,337.3" fill="#9c9c9c" stroke="#9c9c9c" stroke-width="0.35" stroke-linejoin="round"/>
<polygon points="290.1,333.2 301.5,337.3 310.7,331.1 299.4,327.1" fill="#888888" stroke="#888888" stroke-width="0.35" stroke-linejoin="round"/>
<line x1="351.0" y1="303.9" x2="385.9" y2="315.2" stroke="#8c8a6c" stroke-width="0.9" opacity="0.8"/>
<polygon points="546.6,328.2 549.2,329.0 549.2,326.8 546.6,326.0" fill="#707070" stroke="#707070" stroke-width="0.35" stroke-linejoin="round"/>
<polygon points="549.2,329.0 552.0,326.1 552.0,323.9 549.2,326.8" fill="#a8a8a8" stroke="#a8a8a8" stroke-width="0.35" stroke-linejoin="round"/>
<polygon points="546.6,326.0 549.2,326.8 552.0,323.9 549.5,323.1" fill="#9a9a9a" stroke="#9a9a9a" stroke-width="0.35" stroke-linejoin="round"/>
<polygon points="554.3,330.5 556.9,331.3 556.9,329.1 554.3,328.3" fill="#707070" stroke="#707070" stroke-width="0.35" stroke-linejoin="round"/>
<polygon points="556.9,331.3 559.8,328.3 559.8,326.1 556.9,329.1" fill="#a8a8a8" stroke="#a8a8a8" stroke-width="0.35" stroke-linejoin="round"/>
<polygon points="554.3,328.3 556.9,329.1 559.8,326.1 557.2,325.4" fill="#9a9a9a" stroke="#9a9a9a" stroke-width="0.35" stroke-linejoin="round"/>
<polygon points="300.3,342.4 305.7,344.3 305.7,339.3 300.3,337.4" fill="#5a5a5a" stroke="#5a5a5a" stroke-width="0.35" stroke-linejoin="round"/>
<polygon points="305.7,344.3 317.1,336.5 317.1,331.5 305.7,339.3" fill="#949494" stroke="#949494" stroke-width="0.35" stroke-linejoin="round"/>
<polygon points="300.3,337.4 305.7,339.3 317.1,331.5 311.8,329.6" fill="#7e7e7e" stroke="#7e7e7e" stroke-width="0.35" stroke-linejoin="round"/>
<polygon points="542.7,336.8 553.1,339.9 553.1,335.2 542.7,332.1" fill="#606060" stroke="#606060" stroke-width="0.35" stroke-linejoin="round"/>
<polygon points="553.1,339.9 559.8,333.0 559.8,328.3 553.1,335.2" fill="#9c9c9c" stroke="#9c9c9c" stroke-width="0.35" stroke-linejoin="round"/>
<polygon points="542.7,332.1 553.1,335.2 559.8,328.3 549.5,325.3" fill="#888888" stroke="#888888" stroke-width="0.35" stroke-linejoin="round"/>
<polygon points="353.7,340.3 385.1,351.2 385.1,349.9 353.7,339.0" fill="#4ea452" stroke="#4ea452" stroke-width="0.35" stroke-linejoin="round"/>
<polygon points="385.1,351.2 399.0,340.4 399.0,339.1 385.1,349.9" fill="#78c670" stroke="#78c670" stroke-width="0.35" stroke-linejoin="round"/>
<polygon points="353.7,339.0 385.1,349.9 399.0,339.1 368.0,328.7" fill="#96d688" stroke="#96d688" stroke-width="0.35" stroke-linejoin="round"/>
<polygon points="538.9,339.5 551.1,343.2 551.1,337.7 538.9,334.0" fill="#5a5a5a" stroke="#5a5a5a" stroke-width="0.35" stroke-linejoin="round"/>
<polygon points="551.1,343.2 554.0,340.2 554.0,334.7 551.1,337.7" fill="#949494" stroke="#949494" stroke-width="0.35" stroke-linejoin="round"/>
<polygon points="538.9,334.0 551.1,337.7 554.0,334.7 541.8,331.1" fill="#7e7e7e" stroke="#7e7e7e" stroke-width="0.35" stroke-linejoin="round"/>
<polygon points="356.9,338.7 385.0,348.4 385.0,345.5 356.9,335.8" fill="#4f4f4f" stroke="#4f4f4f" stroke-width="0.35" stroke-linejoin="round"/>
<polygon points="385.0,348.4 396.4,339.6 396.4,336.7 385.0,345.5" fill="#8a8a8a" stroke="#8a8a8a" stroke-width="0.35" stroke-linejoin="round"/>
<polygon points="356.9,335.8 385.0,345.5 396.4,336.7 368.5,327.3" fill="#707070" stroke="#707070" stroke-width="0.35" stroke-linejoin="round"/>
<polygon points="369.1,339.0 384.8,344.4 394.8,336.6 379.2,331.4" fill="url(#gWhite)" stroke="url(#gWhite)" stroke-width="0.35" stroke-linejoin="round"/>
<polygon points="532.9,352.5 547.1,338.5 547.1,339.7 532.9,353.7" fill="#b9b878" stroke="#b9b878" stroke-width="0.35" stroke-linejoin="round"/><polygon points="528.5,351.1 532.9,352.5 547.1,338.5 542.8,337.2" fill="url(#gFib)" stroke="url(#gFib)" stroke-width="0.35" stroke-linejoin="round"/>
<polygon points="461.0,355.6 487.8,364.4 487.8,359.4 461.0,350.6" fill="#1f6a30" stroke="#1f6a30" stroke-width="0.35" stroke-linejoin="round"/>
<polygon points="487.8,364.4 507.8,345.4 507.8,340.4 487.8,359.4" fill="#2c7a3a" stroke="#2c7a3a" stroke-width="0.35" stroke-linejoin="round"/>
<polygon points="461.0,350.6 487.8,359.4 507.8,340.4 481.6,332.2" fill="url(#gWhite2)" stroke="url(#gWhite2)" stroke-width="0.35" stroke-linejoin="round"/>
<line x1="270.4" y1="348.2" x2="265.2" y2="346.2" stroke="#8a8a8a" stroke-width="2.2" stroke-linecap="round"/><line x1="270.4" y1="348.2" x2="265.2" y2="346.2" stroke="#eeeeee" stroke-width="1.2" stroke-linecap="round"/><line x1="275.9" y1="344.5" x2="270.7" y2="342.6" stroke="#8a8a8a" stroke-width="2.2" stroke-linecap="round"/><line x1="275.9" y1="344.5" x2="270.7" y2="342.6" stroke="#eeeeee" stroke-width="1.2" stroke-linecap="round"/>
<polygon points="268.2,351.9 279.7,356.3 279.7,352.0 268.2,347.6" fill="#606060" stroke="#606060" stroke-width="0.35" stroke-linejoin="round"/>
<polygon points="279.7,356.3 289.5,349.7 289.5,345.4 279.7,352.0" fill="#9c9c9c" stroke="#9c9c9c" stroke-width="0.35" stroke-linejoin="round"/>
<polygon points="268.2,347.6 279.7,352.0 289.5,345.4 278.1,341.1" fill="#888888" stroke="#888888" stroke-width="0.35" stroke-linejoin="round"/>
<polygon points="278.5,357.1 283.8,359.2 283.8,354.2 278.5,352.1" fill="#5a5a5a" stroke="#5a5a5a" stroke-width="0.35" stroke-linejoin="round"/>
<polygon points="283.8,359.2 296.0,350.9 296.0,345.9 283.8,354.2" fill="#949494" stroke="#949494" stroke-width="0.35" stroke-linejoin="round"/>
<polygon points="278.5,352.1 283.8,354.2 296.0,345.9 290.7,343.9" fill="#7e7e7e" stroke="#7e7e7e" stroke-width="0.35" stroke-linejoin="round"/>
<polygon points="332.7,355.6 364.5,367.2 364.5,365.9 332.7,354.3" fill="#4ea452" stroke="#4ea452" stroke-width="0.35" stroke-linejoin="round"/>
<polygon points="364.5,367.2 379.3,355.7 379.3,354.4 364.5,365.9" fill="#78c670" stroke="#78c670" stroke-width="0.35" stroke-linejoin="round"/>
<polygon points="332.7,354.3 364.5,365.9 379.3,354.4 347.8,343.3" fill="#96d688" stroke="#96d688" stroke-width="0.35" stroke-linejoin="round"/>
<polygon points="301.9,341.2 341.6,355.7 341.6,347.2 301.9,332.7" fill="#4e4e4e" stroke="#4e4e4e" stroke-width="0.35" stroke-linejoin="round"/>
<polygon points="341.6,355.7 365.1,338.4 365.1,329.9 341.6,347.2" fill="#b4b4b4" stroke="#b4b4b4" stroke-width="0.35" stroke-linejoin="round"/>
<polygon points="301.9,332.7 341.6,347.2 365.1,329.9 325.9,316.5" fill="url(#gHS)" stroke="url(#gHS)" stroke-width="0.35" stroke-linejoin="round"/>
<line x1="327.7" y1="317.1" x2="364.1" y2="329.6" stroke="#8c8a6c" stroke-width="0.9" opacity="0.8"/>
<polygon points="492.2,365.9 520.2,375.2 520.2,370.2 492.2,360.9" fill="#1f6a30" stroke="#1f6a30" stroke-width="0.35" stroke-linejoin="round"/>
<polygon points="520.2,375.2 539.5,355.3 539.5,350.3 520.2,370.2" fill="#2c7a3a" stroke="#2c7a3a" stroke-width="0.35" stroke-linejoin="round"/>
<polygon points="492.2,360.9 520.2,370.2 539.5,350.3 512.1,341.7" fill="url(#gWhite2)" stroke="url(#gWhite2)" stroke-width="0.35" stroke-linejoin="round"/>
<polygon points="336.0,353.9 364.5,364.3 364.5,361.4 336.0,351.0" fill="#4f4f4f" stroke="#4f4f4f" stroke-width="0.35" stroke-linejoin="round"/>
<polygon points="364.5,364.3 376.6,355.0 376.6,352.1 364.5,361.4" fill="#8a8a8a" stroke="#8a8a8a" stroke-width="0.35" stroke-linejoin="round"/>
<polygon points="336.0,351.0 364.5,361.4 376.6,352.1 348.3,342.0" fill="#707070" stroke="#707070" stroke-width="0.35" stroke-linejoin="round"/>
<polygon points="348.4,354.4 364.3,360.2 375.0,352.0 359.2,346.4" fill="url(#gWhite)" stroke="url(#gWhite)" stroke-width="0.35" stroke-linejoin="round"/>
<line x1="248.1" y1="362.8" x2="242.9" y2="360.7" stroke="#8a8a8a" stroke-width="2.2" stroke-linecap="round"/><line x1="248.1" y1="362.8" x2="242.9" y2="360.7" stroke="#eeeeee" stroke-width="1.2" stroke-linecap="round"/><line x1="254.0" y1="359.0" x2="248.7" y2="356.9" stroke="#8a8a8a" stroke-width="2.2" stroke-linecap="round"/><line x1="254.0" y1="359.0" x2="248.7" y2="356.9" stroke="#eeeeee" stroke-width="1.2" stroke-linecap="round"/>
<polygon points="245.8,366.6 257.4,371.3 257.4,367.0 245.8,362.3" fill="#606060" stroke="#606060" stroke-width="0.35" stroke-linejoin="round"/>
<polygon points="257.4,371.3 267.8,364.3 267.8,360.0 257.4,367.0" fill="#9c9c9c" stroke="#9c9c9c" stroke-width="0.35" stroke-linejoin="round"/>
<polygon points="245.8,362.3 257.4,367.0 267.8,360.0 256.2,355.5" fill="#888888" stroke="#888888" stroke-width="0.35" stroke-linejoin="round"/>
<polygon points="256.1,372.2 261.5,374.4 261.5,369.4 256.1,367.2" fill="#5a5a5a" stroke="#5a5a5a" stroke-width="0.35" stroke-linejoin="round"/>
<polygon points="261.5,374.4 274.4,365.6 274.4,360.6 261.5,369.4" fill="#949494" stroke="#949494" stroke-width="0.35" stroke-linejoin="round"/>
<polygon points="256.1,367.2 261.5,369.4 274.4,360.6 269.0,358.5" fill="#7e7e7e" stroke="#7e7e7e" stroke-width="0.35" stroke-linejoin="round"/>
<polygon points="311.9,370.7 344.1,383.1 344.1,381.8 311.9,369.4" fill="#4ea452" stroke="#4ea452" stroke-width="0.35" stroke-linejoin="round"/>
<polygon points="344.1,383.1 359.8,370.9 359.8,369.6 344.1,381.8" fill="#78c670" stroke="#78c670" stroke-width="0.35" stroke-linejoin="round"/>
<polygon points="311.9,369.4 344.1,381.8 359.8,369.6 327.9,357.7" fill="#96d688" stroke="#96d688" stroke-width="0.35" stroke-linejoin="round"/>
<polygon points="275.7,354.2 317.6,370.3 317.6,361.8 275.7,345.7" fill="#4e4e4e" stroke="#4e4e4e" stroke-width="0.35" stroke-linejoin="round"/>
<polygon points="317.6,370.3 339.0,354.7 339.0,346.2 317.6,361.8" fill="#b4b4b4" stroke="#b4b4b4" stroke-width="0.35" stroke-linejoin="round"/>
<polygon points="275.7,345.7 317.6,361.8 339.0,346.2 297.5,331.1" fill="url(#gHS)" stroke="url(#gHS)" stroke-width="0.35" stroke-linejoin="round"/>
<line x1="299.3" y1="331.8" x2="338.0" y2="345.9" stroke="#8c8a6c" stroke-width="0.9" opacity="0.8"/>
<polygon points="299.1,381.3 265.4,369.8 265.4,371.0 299.1,382.5" fill="#b9b878" stroke="#b9b878" stroke-width="0.35" stroke-linejoin="round"/><polygon points="299.1,381.3 265.4,369.8 270.6,366.2 304.2,377.6" fill="url(#gFib)" stroke="url(#gFib)" stroke-width="0.35" stroke-linejoin="round"/>
<polygon points="315.3,369.0 344.2,380.1 344.2,377.2 315.3,366.1" fill="#4f4f4f" stroke="#4f4f4f" stroke-width="0.35" stroke-linejoin="round"/>
<polygon points="344.2,380.1 357.0,370.2 357.0,367.3 344.2,377.2" fill="#8a8a8a" stroke="#8a8a8a" stroke-width="0.35" stroke-linejoin="round"/>
<polygon points="315.3,366.1 344.2,377.2 357.0,367.3 328.3,356.6" fill="#707070" stroke="#707070" stroke-width="0.35" stroke-linejoin="round"/>
<polygon points="327.9,369.8 344.0,375.9 355.4,367.2 339.3,361.2" fill="url(#gWhite)" stroke="url(#gWhite)" stroke-width="0.35" stroke-linejoin="round"/>
<polygon points="289.8,386.8 322.4,400.0 322.4,398.7 289.8,385.5" fill="#4ea452" stroke="#4ea452" stroke-width="0.35" stroke-linejoin="round"/>
<polygon points="322.4,400.0 339.1,387.0 339.1,385.7 322.4,398.7" fill="#78c670" stroke="#78c670" stroke-width="0.35" stroke-linejoin="round"/>
<polygon points="289.8,385.5 322.4,398.7 339.1,385.7 306.8,373.1" fill="#96d688" stroke="#96d688" stroke-width="0.35" stroke-linejoin="round"/>
<polygon points="293.3,385.1 322.5,396.9 322.5,394.0 293.3,382.2" fill="#4f4f4f" stroke="#4f4f4f" stroke-width="0.35" stroke-linejoin="round"/>
<polygon points="322.5,396.9 336.1,386.4 336.1,383.5 322.5,394.0" fill="#8a8a8a" stroke="#8a8a8a" stroke-width="0.35" stroke-linejoin="round"/>
<polygon points="293.3,382.2 322.5,394.0 336.1,383.5 307.2,372.1" fill="#707070" stroke="#707070" stroke-width="0.35" stroke-linejoin="round"/>
<polygon points="306.1,386.1 322.4,392.7 334.5,383.3 318.3,377.0" fill="url(#gWhite)" stroke="url(#gWhite)" stroke-width="0.35" stroke-linejoin="round"/>
<polygon points="511.0,390.9 554.7,405.8 554.7,401.3 511.0,386.4" fill="#2a3d2e" stroke="#2a3d2e" stroke-width="0.35" stroke-linejoin="round"/>
<polygon points="554.7,405.8 567.6,390.7 567.6,386.2 554.7,401.3" fill="#9a9a9a" stroke="#9a9a9a" stroke-width="0.35" stroke-linejoin="round"/>
<polygon points="511.0,386.4 554.7,401.3 567.6,386.2 524.7,372.1" fill="url(#gWhite2)" stroke="url(#gWhite2)" stroke-width="0.35" stroke-linejoin="round"/>
<polygon points="557.0,400.2 594.8,413.5 594.8,414.7 557.0,401.4" fill="#b9b878" stroke="#b9b878" stroke-width="0.35" stroke-linejoin="round"/><polygon points="557.0,400.2 594.8,413.5 598.0,409.3 560.4,396.2" fill="url(#gFib)" stroke="url(#gFib)" stroke-width="0.35" stroke-linejoin="round"/>
<polygon points="591.8,420.8 599.7,423.5 599.7,418.0 591.8,415.3" fill="#5a5a5a" stroke="#5a5a5a" stroke-width="0.35" stroke-linejoin="round"/>
<polygon points="599.7,423.5 608.7,411.6 608.7,406.1 599.7,418.0" fill="#949494" stroke="#949494" stroke-width="0.35" stroke-linejoin="round"/>
<polygon points="591.8,415.3 599.7,418.0 608.7,406.1 600.9,403.5" fill="#7e7e7e" stroke="#7e7e7e" stroke-width="0.35" stroke-linejoin="round"/>
<polygon points="600.6,422.3 618.0,428.2 618.0,423.5 600.6,417.6" fill="#606060" stroke="#606060" stroke-width="0.35" stroke-linejoin="round"/>
<polygon points="618.0,428.2 624.9,418.5 624.9,413.8 618.0,423.5" fill="#9c9c9c" stroke="#9c9c9c" stroke-width="0.35" stroke-linejoin="round"/>
<polygon points="600.6,417.6 618.0,423.5 624.9,413.8 607.8,408.1" fill="#888888" stroke="#888888" stroke-width="0.35" stroke-linejoin="round"/>
<line x1="619.7" y1="423.5" x2="627.9" y2="426.2" stroke="#8a8a8a" stroke-width="2.2" stroke-linecap="round"/><line x1="619.7" y1="423.5" x2="627.9" y2="426.2" stroke="#eeeeee" stroke-width="1.2" stroke-linecap="round"/><line x1="623.2" y1="418.6" x2="631.3" y2="421.3" stroke="#8a8a8a" stroke-width="2.2" stroke-linecap="round"/><line x1="623.2" y1="418.6" x2="631.3" y2="421.3" stroke="#eeeeee" stroke-width="1.2" stroke-linecap="round"/>
<polygon points="492.4,410.2 537.1,426.3 537.1,421.8 492.4,405.7" fill="#2a3d2e" stroke="#2a3d2e" stroke-width="0.35" stroke-linejoin="round"/>
<polygon points="537.1,426.3 551.0,410.0 551.0,405.5 537.1,421.8" fill="#9a9a9a" stroke="#9a9a9a" stroke-width="0.35" stroke-linejoin="round"/>
<polygon points="492.4,405.7 537.1,421.8 551.0,405.5 507.1,390.4" fill="url(#gWhite2)" stroke="url(#gWhite2)" stroke-width="0.35" stroke-linejoin="round"/>
<polygon points="293.5,425.0 316.7,435.3 316.7,434.0 293.5,423.7" fill="#4ea452" stroke="#4ea452" stroke-width="0.35" stroke-linejoin="round"/>
<polygon points="316.7,435.3 344.1,412.8 344.1,411.5 316.7,434.0" fill="#78c670" stroke="#78c670" stroke-width="0.35" stroke-linejoin="round"/>
<polygon points="293.5,423.7 316.7,434.0 344.1,411.5 321.2,402.1" fill="#96d688" stroke="#96d688" stroke-width="0.35" stroke-linejoin="round"/>
<polygon points="298.3,423.3 316.9,431.4 316.9,428.5 298.3,420.4" fill="#4f4f4f" stroke="#4f4f4f" stroke-width="0.35" stroke-linejoin="round"/>
<polygon points="316.9,431.4 340.6,412.0 340.6,409.1 316.9,428.5" fill="#8a8a8a" stroke="#8a8a8a" stroke-width="0.35" stroke-linejoin="round"/>
<polygon points="298.3,420.4 316.9,428.5 340.6,409.1 322.2,401.6" fill="#6f6f6f" stroke="#6f6f6f" stroke-width="0.35" stroke-linejoin="round"/>
<polygon points="300.5,419.7 317.4,427.0 325.8,420.1 309.0,413.0" fill="#8c8c8c" stroke="#8c8c8c" stroke-width="0.35" stroke-linejoin="round"/>
<polygon points="309.9,412.3 326.7,419.5 338.9,409.4 322.2,402.5" fill="url(#gWhite)" stroke="url(#gWhite)" stroke-width="0.35" stroke-linejoin="round"/>
<polygon points="539.7,420.4 578.4,434.8 578.4,436.0 539.7,421.6" fill="#b9b878" stroke="#b9b878" stroke-width="0.35" stroke-linejoin="round"/><polygon points="539.7,420.4 578.4,434.8 581.9,430.2 543.3,416.1" fill="url(#gFib)" stroke="url(#gFib)" stroke-width="0.35" stroke-linejoin="round"/>
<polygon points="575.2,442.4 583.3,445.4 583.3,439.9 575.2,436.9" fill="#5a5a5a" stroke="#5a5a5a" stroke-width="0.35" stroke-linejoin="round"/>
<polygon points="583.3,445.4 592.9,432.5 592.9,427.0 583.3,439.9" fill="#949494" stroke="#949494" stroke-width="0.35" stroke-linejoin="round"/>
<polygon points="575.2,436.9 583.3,439.9 592.9,427.0 585.0,424.2" fill="#7e7e7e" stroke="#7e7e7e" stroke-width="0.35" stroke-linejoin="round"/>
<polygon points="584.2,444.0 602.1,450.5 602.1,445.8 584.2,439.3" fill="#606060" stroke="#606060" stroke-width="0.35" stroke-linejoin="round"/>
<polygon points="602.1,450.5 609.6,439.9 609.6,435.2 602.1,445.8" fill="#9c9c9c" stroke="#9c9c9c" stroke-width="0.35" stroke-linejoin="round"/>
<polygon points="584.2,439.3 602.1,445.8 609.6,435.2 592.0,429.0" fill="#888888" stroke="#888888" stroke-width="0.35" stroke-linejoin="round"/>
<line x1="604.0" y1="445.5" x2="612.3" y2="448.5" stroke="#8a8a8a" stroke-width="2.2" stroke-linecap="round"/><line x1="604.0" y1="445.5" x2="612.3" y2="448.5" stroke="#eeeeee" stroke-width="1.2" stroke-linecap="round"/><line x1="607.8" y1="440.2" x2="616.1" y2="443.2" stroke="#8a8a8a" stroke-width="2.2" stroke-linecap="round"/><line x1="607.8" y1="440.2" x2="616.1" y2="443.2" stroke="#eeeeee" stroke-width="1.2" stroke-linecap="round"/>
<polygon points="324.6,438.7 349.1,449.5 349.1,448.2 324.6,437.4" fill="#4ea452" stroke="#4ea452" stroke-width="0.35" stroke-linejoin="round"/>
<polygon points="349.1,449.5 375.9,425.9 375.9,424.6 349.1,448.2" fill="#78c670" stroke="#78c670" stroke-width="0.35" stroke-linejoin="round"/>
<polygon points="324.6,437.4 349.1,448.2 375.9,424.6 351.8,414.7" fill="#96d688" stroke="#96d688" stroke-width="0.35" stroke-linejoin="round"/>
<polygon points="473.9,429.4 519.6,446.7 519.6,442.2 473.9,424.9" fill="#2a3d2e" stroke="#2a3d2e" stroke-width="0.35" stroke-linejoin="round"/>
<polygon points="519.6,446.7 534.5,429.3 534.5,424.8 519.6,442.2" fill="#9a9a9a" stroke="#9a9a9a" stroke-width="0.35" stroke-linejoin="round"/>
<polygon points="473.9,424.9 519.6,442.2 534.5,424.8 489.6,408.5" fill="url(#gWhite2)" stroke="url(#gWhite2)" stroke-width="0.35" stroke-linejoin="round"/>
<polygon points="329.5,437.0 349.1,445.5 349.1,442.6 329.5,434.1" fill="#4f4f4f" stroke="#4f4f4f" stroke-width="0.35" stroke-linejoin="round"/>
<polygon points="349.1,445.5 372.3,425.1 372.3,422.2 349.1,442.6" fill="#8a8a8a" stroke="#8a8a8a" stroke-width="0.35" stroke-linejoin="round"/>
<polygon points="329.5,434.1 349.1,442.6 372.3,422.2 353.0,414.3" fill="#6f6f6f" stroke="#6f6f6f" stroke-width="0.35" stroke-linejoin="round"/>
<polygon points="331.7,433.3 349.5,441.1 357.8,433.8 340.1,426.2" fill="#8c8c8c" stroke="#8c8c8c" stroke-width="0.35" stroke-linejoin="round"/>
<polygon points="340.9,425.5 358.6,433.1 370.6,422.6 353.1,415.3" fill="url(#gWhite)" stroke="url(#gWhite)" stroke-width="0.35" stroke-linejoin="round"/>
<polygon points="309.7,422.8 280.4,450.3 280.4,451.5 309.7,424.0" fill="#b9b878" stroke="#b9b878" stroke-width="0.35" stroke-linejoin="round"/><polygon points="304.3,420.4 309.7,422.8 280.4,450.3 274.9,447.7" fill="url(#gFib)" stroke="url(#gFib)" stroke-width="0.35" stroke-linejoin="round"/>
<polygon points="522.3,440.6 562.0,456.1 562.0,457.3 522.3,441.8" fill="#b9b878" stroke="#b9b878" stroke-width="0.35" stroke-linejoin="round"/><polygon points="522.3,440.6 562.0,456.1 565.7,451.2 526.3,436.0" fill="url(#gFib)" stroke="url(#gFib)" stroke-width="0.35" stroke-linejoin="round"/>
<polygon points="357.4,453.2 383.3,464.6 383.3,463.3 357.4,451.9" fill="#4ea452" stroke="#4ea452" stroke-width="0.35" stroke-linejoin="round"/>
<polygon points="383.3,464.6 409.4,439.7 409.4,438.4 383.3,463.3" fill="#78c670" stroke="#78c670" stroke-width="0.35" stroke-linejoin="round"/>
<polygon points="357.4,451.9 383.3,463.3 409.4,438.4 384.0,427.9" fill="#96d688" stroke="#96d688" stroke-width="0.35" stroke-linejoin="round"/>
<polygon points="362.4,451.4 383.1,460.5 383.1,457.6 362.4,448.5" fill="#4f4f4f" stroke="#4f4f4f" stroke-width="0.35" stroke-linejoin="round"/>
<polygon points="383.1,460.5 405.8,439.0 405.8,436.1 383.1,457.6" fill="#8a8a8a" stroke="#8a8a8a" stroke-width="0.35" stroke-linejoin="round"/>
<polygon points="362.4,448.5 383.1,457.6 405.8,436.1 385.4,427.6" fill="#6f6f6f" stroke="#6f6f6f" stroke-width="0.35" stroke-linejoin="round"/>
<polygon points="364.6,447.7 383.5,455.9 391.6,448.2 372.8,440.2" fill="#8c8c8c" stroke="#8c8c8c" stroke-width="0.35" stroke-linejoin="round"/>
<polygon points="373.6,439.5 392.4,447.5 404.1,436.4 385.5,428.7" fill="url(#gWhite)" stroke="url(#gWhite)" stroke-width="0.35" stroke-linejoin="round"/>
<polygon points="263.4,453.6 278.8,460.9 278.8,455.4 263.4,448.1" fill="#5a5a5a" stroke="#5a5a5a" stroke-width="0.35" stroke-linejoin="round"/>
<polygon points="278.8,460.9 285.3,455.6 285.3,450.1 278.8,455.4" fill="#949494" stroke="#949494" stroke-width="0.35" stroke-linejoin="round"/>
<polygon points="263.4,448.1 278.8,455.4 285.3,450.1 270.0,443.0" fill="#7e7e7e" stroke="#7e7e7e" stroke-width="0.35" stroke-linejoin="round"/>
<line x1="254.4" y1="464.1" x2="247.5" y2="469.5" stroke="#8a8a8a" stroke-width="2.2" stroke-linecap="round"/><line x1="254.4" y1="464.1" x2="247.5" y2="469.5" stroke="#eeeeee" stroke-width="1.2" stroke-linecap="round"/><line x1="260.8" y1="467.2" x2="253.9" y2="472.8" stroke="#8a8a8a" stroke-width="2.2" stroke-linecap="round"/><line x1="260.8" y1="467.2" x2="253.9" y2="472.8" stroke="#eeeeee" stroke-width="1.2" stroke-linecap="round"/>
<polygon points="251.6,465.0 263.7,470.9 263.7,466.2 251.6,460.3" fill="#606060" stroke="#606060" stroke-width="0.35" stroke-linejoin="round"/>
<polygon points="263.7,470.9 277.1,460.1 277.1,455.4 263.7,466.2" fill="#9c9c9c" stroke="#9c9c9c" stroke-width="0.35" stroke-linejoin="round"/>
<polygon points="251.6,460.3 263.7,466.2 277.1,455.4 265.1,449.7" fill="#888888" stroke="#888888" stroke-width="0.35" stroke-linejoin="round"/>
<polygon points="558.5,464.0 566.8,467.2 566.8,461.7 558.5,458.5" fill="#5a5a5a" stroke="#5a5a5a" stroke-width="0.35" stroke-linejoin="round"/>
<polygon points="566.8,467.2 577.2,453.4 577.2,447.9 566.8,461.7" fill="#949494" stroke="#949494" stroke-width="0.35" stroke-linejoin="round"/>
<polygon points="558.5,458.5 566.8,461.7 577.2,447.9 569.1,444.8" fill="#7e7e7e" stroke="#7e7e7e" stroke-width="0.35" stroke-linejoin="round"/>
<polygon points="341.3,436.5 312.5,465.3 312.5,466.5 341.3,437.7" fill="#b9b878" stroke="#b9b878" stroke-width="0.35" stroke-linejoin="round"/><polygon points="335.6,434.0 341.3,436.5 312.5,465.3 306.6,462.6" fill="url(#gFib)" stroke="url(#gFib)" stroke-width="0.35" stroke-linejoin="round"/>
<polygon points="567.9,465.8 586.2,472.7 586.2,468.0 567.9,461.1" fill="#606060" stroke="#606060" stroke-width="0.35" stroke-linejoin="round"/>
<polygon points="586.2,472.7 594.3,461.4 594.3,456.7 586.2,468.0" fill="#9c9c9c" stroke="#9c9c9c" stroke-width="0.35" stroke-linejoin="round"/>
<polygon points="567.9,461.1 586.2,468.0 594.3,456.7 576.2,450.0" fill="#888888" stroke="#888888" stroke-width="0.35" stroke-linejoin="round"/>
<line x1="588.2" y1="467.5" x2="596.8" y2="470.8" stroke="#8a8a8a" stroke-width="2.2" stroke-linecap="round"/><line x1="588.2" y1="467.5" x2="596.8" y2="470.8" stroke="#eeeeee" stroke-width="1.2" stroke-linecap="round"/><line x1="592.3" y1="461.9" x2="600.8" y2="465.1" stroke="#8a8a8a" stroke-width="2.2" stroke-linecap="round"/><line x1="592.3" y1="461.9" x2="600.8" y2="465.1" stroke="#eeeeee" stroke-width="1.2" stroke-linecap="round"/>
<polygon points="453.1,451.0 499.8,469.8 499.8,465.3 453.1,446.5" fill="#2a3d2e" stroke="#2a3d2e" stroke-width="0.35" stroke-linejoin="round"/>
<polygon points="499.8,469.8 515.9,451.0 515.9,446.5 499.8,465.3" fill="#9a9a9a" stroke="#9a9a9a" stroke-width="0.35" stroke-linejoin="round"/>
<polygon points="453.1,446.5 499.8,465.3 515.9,446.5 470.0,428.9" fill="url(#gWhite2)" stroke="url(#gWhite2)" stroke-width="0.35" stroke-linejoin="round"/>
<polygon points="392.1,468.4 419.5,480.5 419.5,479.2 392.1,467.1" fill="#4ea452" stroke="#4ea452" stroke-width="0.35" stroke-linejoin="round"/>
<polygon points="419.5,480.5 444.9,454.3 444.9,453.0 419.5,479.2" fill="#78c670" stroke="#78c670" stroke-width="0.35" stroke-linejoin="round"/>
<polygon points="392.1,467.1 419.5,479.2 444.9,453.0 418.0,441.9" fill="#96d688" stroke="#96d688" stroke-width="0.35" stroke-linejoin="round"/>
<polygon points="397.2,466.6 419.2,476.2 419.2,473.3 397.2,463.7" fill="#4f4f4f" stroke="#4f4f4f" stroke-width="0.35" stroke-linejoin="round"/>
<polygon points="419.2,476.2 441.2,453.6 441.2,450.7 419.2,473.3" fill="#8a8a8a" stroke="#8a8a8a" stroke-width="0.35" stroke-linejoin="round"/>
<polygon points="397.2,463.7 419.2,473.3 441.2,450.7 419.6,441.8" fill="#6f6f6f" stroke="#6f6f6f" stroke-width="0.35" stroke-linejoin="round"/>
<polygon points="399.5,462.9 419.4,471.6 427.3,463.5 407.5,455.0" fill="#8c8c8c" stroke="#8c8c8c" stroke-width="0.35" stroke-linejoin="round"/>
<polygon points="408.2,454.3 428.1,462.7 439.4,451.0 419.8,442.9" fill="url(#gWhite)" stroke="url(#gWhite)" stroke-width="0.35" stroke-linejoin="round"/>
<polygon points="295.0,468.6 311.3,476.3 311.3,470.8 295.0,463.1" fill="#5a5a5a" stroke="#5a5a5a" stroke-width="0.35" stroke-linejoin="round"/>
<polygon points="311.3,476.3 317.7,470.7 317.7,465.2 311.3,470.8" fill="#949494" stroke="#949494" stroke-width="0.35" stroke-linejoin="round"/>
<polygon points="295.0,463.1 311.3,470.8 317.7,465.2 301.5,457.7" fill="#7e7e7e" stroke="#7e7e7e" stroke-width="0.35" stroke-linejoin="round"/>
<line x1="286.5" y1="479.8" x2="279.6" y2="485.5" stroke="#8a8a8a" stroke-width="2.2" stroke-linecap="round"/><line x1="286.5" y1="479.8" x2="279.6" y2="485.5" stroke="#eeeeee" stroke-width="1.2" stroke-linecap="round"/><line x1="293.3" y1="483.1" x2="286.5" y2="488.9" stroke="#8a8a8a" stroke-width="2.2" stroke-linecap="round"/><line x1="293.3" y1="483.1" x2="286.5" y2="488.9" stroke="#eeeeee" stroke-width="1.2" stroke-linecap="round"/>
<polygon points="283.5,480.6 296.3,486.8 296.3,482.1 283.5,475.9" fill="#606060" stroke="#606060" stroke-width="0.35" stroke-linejoin="round"/>
<polygon points="296.3,486.8 309.5,475.4 309.5,470.7 296.3,482.1" fill="#9c9c9c" stroke="#9c9c9c" stroke-width="0.35" stroke-linejoin="round"/>
<polygon points="283.5,475.9 296.3,482.1 309.5,470.7 296.8,464.7" fill="#888888" stroke="#888888" stroke-width="0.35" stroke-linejoin="round"/>
<polygon points="502.8,463.4 543.4,480.1 543.4,481.3 502.8,464.6" fill="#b9b878" stroke="#b9b878" stroke-width="0.35" stroke-linejoin="round"/><polygon points="502.8,463.4 543.4,480.1 547.5,474.9 507.0,458.4" fill="url(#gFib)" stroke="url(#gFib)" stroke-width="0.35" stroke-linejoin="round"/>
<polygon points="374.7,451.0 346.5,481.1 346.5,482.3 374.7,452.2" fill="#b9b878" stroke="#b9b878" stroke-width="0.35" stroke-linejoin="round"/><polygon points="368.6,448.4 374.7,451.0 346.5,481.1 340.3,478.2" fill="url(#gFib)" stroke="url(#gFib)" stroke-width="0.35" stroke-linejoin="round"/>
<polygon points="539.7,488.5 548.2,491.9 548.2,486.4 539.7,483.0" fill="#5a5a5a" stroke="#5a5a5a" stroke-width="0.35" stroke-linejoin="round"/>
<polygon points="548.2,491.9 559.5,476.9 559.5,471.4 548.2,486.4" fill="#949494" stroke="#949494" stroke-width="0.35" stroke-linejoin="round"/>
<polygon points="539.7,483.0 548.2,486.4 559.5,471.4 551.1,468.2" fill="#7e7e7e" stroke="#7e7e7e" stroke-width="0.35" stroke-linejoin="round"/>
<polygon points="549.4,490.4 568.2,497.9 568.2,493.2 549.4,485.7" fill="#606060" stroke="#606060" stroke-width="0.35" stroke-linejoin="round"/>
<polygon points="568.2,497.9 576.9,485.7 576.9,481.0 568.2,493.2" fill="#9c9c9c" stroke="#9c9c9c" stroke-width="0.35" stroke-linejoin="round"/>
<polygon points="549.4,485.7 568.2,493.2 576.9,481.0 558.4,473.7" fill="#888888" stroke="#888888" stroke-width="0.35" stroke-linejoin="round"/>
<line x1="570.4" y1="492.5" x2="579.2" y2="496.0" stroke="#8a8a8a" stroke-width="2.2" stroke-linecap="round"/><line x1="570.4" y1="492.5" x2="579.2" y2="496.0" stroke="#eeeeee" stroke-width="1.2" stroke-linecap="round"/><line x1="574.8" y1="486.4" x2="583.5" y2="489.8" stroke="#8a8a8a" stroke-width="2.2" stroke-linecap="round"/><line x1="574.8" y1="486.4" x2="583.5" y2="489.8" stroke="#eeeeee" stroke-width="1.2" stroke-linecap="round"/>
<polygon points="328.5,484.4 345.7,492.6 345.7,487.1 328.5,478.9" fill="#5a5a5a" stroke="#5a5a5a" stroke-width="0.35" stroke-linejoin="round"/>
<polygon points="345.7,492.6 352.0,486.7 352.0,481.2 345.7,487.1" fill="#949494" stroke="#949494" stroke-width="0.35" stroke-linejoin="round"/>
<polygon points="328.5,478.9 345.7,487.1 352.0,481.2 334.8,473.2" fill="#7e7e7e" stroke="#7e7e7e" stroke-width="0.35" stroke-linejoin="round"/>
<line x1="320.4" y1="496.4" x2="313.7" y2="502.5" stroke="#8a8a8a" stroke-width="2.2" stroke-linecap="round"/><line x1="320.4" y1="496.4" x2="313.7" y2="502.5" stroke="#eeeeee" stroke-width="1.2" stroke-linecap="round"/><line x1="327.6" y1="499.9" x2="321.0" y2="506.1" stroke="#8a8a8a" stroke-width="2.2" stroke-linecap="round"/><line x1="327.6" y1="499.9" x2="321.0" y2="506.1" stroke="#eeeeee" stroke-width="1.2" stroke-linecap="round"/>
<polygon points="317.3,497.2 330.8,503.8 330.8,499.1 317.3,492.5" fill="#606060" stroke="#606060" stroke-width="0.35" stroke-linejoin="round"/>
<polygon points="330.8,503.8 343.8,491.7 343.8,487.0 330.8,499.1" fill="#9c9c9c" stroke="#9c9c9c" stroke-width="0.35" stroke-linejoin="round"/>
<polygon points="317.3,492.5 330.8,499.1 343.8,487.0 330.4,480.6" fill="#888888" stroke="#888888" stroke-width="0.35" stroke-linejoin="round"/>
<polygon points="410.0,466.3 382.5,497.9 382.5,499.1 410.0,467.5" fill="#b9b878" stroke="#b9b878" stroke-width="0.35" stroke-linejoin="round"/><polygon points="403.6,463.6 410.0,466.3 382.5,497.9 375.9,494.9" fill="url(#gFib)" stroke="url(#gFib)" stroke-width="0.35" stroke-linejoin="round"/>
<polygon points="363.9,501.2 382.2,509.9 382.2,504.4 363.9,495.7" fill="#5a5a5a" stroke="#5a5a5a" stroke-width="0.35" stroke-linejoin="round"/>
<polygon points="382.2,509.9 388.3,503.7 388.3,498.2 382.2,504.4" fill="#949494" stroke="#949494" stroke-width="0.35" stroke-linejoin="round"/>
<polygon points="363.9,495.7 382.2,504.4 388.3,498.2 370.1,489.7" fill="#7e7e7e" stroke="#7e7e7e" stroke-width="0.35" stroke-linejoin="round"/>
<line x1="356.5" y1="514.0" x2="349.9" y2="520.5" stroke="#8a8a8a" stroke-width="2.2" stroke-linecap="round"/><line x1="356.5" y1="514.0" x2="349.9" y2="520.5" stroke="#eeeeee" stroke-width="1.2" stroke-linecap="round"/><line x1="364.1" y1="517.8" x2="357.6" y2="524.3" stroke="#8a8a8a" stroke-width="2.2" stroke-linecap="round"/><line x1="364.1" y1="517.8" x2="357.6" y2="524.3" stroke="#eeeeee" stroke-width="1.2" stroke-linecap="round"/>
<polygon points="353.2,514.7 367.5,521.7 367.5,517.0 353.2,510.0" fill="#606060" stroke="#606060" stroke-width="0.35" stroke-linejoin="round"/>
<polygon points="367.5,521.7 380.1,508.9 380.1,504.2 367.5,517.0" fill="#9c9c9c" stroke="#9c9c9c" stroke-width="0.35" stroke-linejoin="round"/>
<polygon points="353.2,510.0 367.5,517.0 380.1,504.2 365.9,497.5" fill="#888888" stroke="#888888" stroke-width="0.35" stroke-linejoin="round"/>
<circle cx="1170" cy="397.5" r="134" fill="none" stroke="#3d9fd0" stroke-width="2" stroke-dasharray="5.2 4.4"/>
<polygon points="1006.6,449.9 1048.7,471.5 1048.7,484.2 1007.2,459.8" fill="#a69844" stroke="#a69844" stroke-width="0.35" stroke-linejoin="round"/>
<polygon points="1048.7,471.5 1081.4,458.7 1081.9,469.8 1048.7,484.2" fill="#bcae52" stroke="#bcae52" stroke-width="0.35" stroke-linejoin="round"/>
<polygon points="1006.6,449.9 1022.5,441.5 1081.4,458.7 1048.7,471.5" fill="#cdc066" stroke="#cdc066" stroke-width="0.35" stroke-linejoin="round"/>
<polygon points="1014.0,455.0 1040.0,468.0 1046.0,478.0 1016.0,461.0" fill="#6f6a30" opacity="0.6"/>
<polygon points="1030.0,463.0 1047.0,472.0 1047.0,480.0 1032.0,470.0" fill="#5f5a28" opacity="0.55"/>
<polygon points="1018.8,440.0 1032.1,431.1 1045.9,439.4 1045.9,446.0 1032.5,454.0 1018.8,447.0" fill="#cfc26a" opacity="0.95"/>
<polygon points="1018.8,440.0 1032.5,448.0 1045.9,439.4 1045.9,446.0 1032.5,454.0 1018.8,447.0" fill="#b5a852" stroke="#b5a852" stroke-width="0.35" stroke-linejoin="round"/>
<polygon points="1018.8,440.0 1032.1,431.1 1045.9,439.4 1032.5,448.0" fill="#dbcf78" stroke="#dbcf78" stroke-width="0.35" stroke-linejoin="round"/>
<polygon points="1062.0,458.0 1067.5,456.0 1069.0,466.0 1064.0,478.0" fill="#a89a44" opacity="0.7"/>
<polygon points="1038.0,447.0 1046.0,443.0 1058.0,452.0 1050.0,457.0" fill="#c9c8b8" opacity="0.9"/>
<polyline points="1007.2,459.8 1006.6,449.9 1018.8,443.0 1018.8,440.0 1032.1,431.1 1045.9,439.4 1045.9,444.0 1081.4,458.7 1081.9,469.8 1048.7,484.2 1007.2,459.8" fill="none" stroke="#8e8440" stroke-width="0.7"/>
<polygon points="1086.1,451.9 1128.2,473.5 1128.2,486.2 1086.7,461.8" fill="#a69844" stroke="#a69844" stroke-width="0.35" stroke-linejoin="round"/>
<polygon points="1128.2,473.5 1160.9,460.7 1161.4,471.8 1128.2,486.2" fill="#bcae52" stroke="#bcae52" stroke-width="0.35" stroke-linejoin="round"/>
<polygon points="1086.1,451.9 1102.0,443.5 1160.9,460.7 1128.2,473.5" fill="#cdc066" stroke="#cdc066" stroke-width="0.35" stroke-linejoin="round"/>
<polygon points="1093.5,457.0 1119.5,470.0 1125.5,480.0 1095.5,463.0" fill="#6f6a30" opacity="0.6"/>
<polygon points="1109.5,465.0 1126.5,474.0 1126.5,482.0 1111.5,472.0" fill="#5f5a28" opacity="0.55"/>
<polygon points="1098.3,442.0 1111.6,433.1 1125.4,441.4 1125.4,448.0 1112.0,456.0 1098.3,449.0" fill="#cfc26a" opacity="0.95"/>
<polygon points="1098.3,442.0 1112.0,450.0 1125.4,441.4 1125.4,448.0 1112.0,456.0 1098.3,449.0" fill="#b5a852" stroke="#b5a852" stroke-width="0.35" stroke-linejoin="round"/>
<polygon points="1098.3,442.0 1111.6,433.1 1125.4,441.4 1112.0,450.0" fill="#dbcf78" stroke="#dbcf78" stroke-width="0.35" stroke-linejoin="round"/>
<polygon points="1141.5,460.0 1147.0,458.0 1148.5,468.0 1143.5,480.0" fill="#a89a44" opacity="0.7"/>
<polygon points="1117.5,449.0 1125.5,445.0 1137.5,454.0 1129.5,459.0" fill="#c9c8b8" opacity="0.9"/>
<polyline points="1086.7,461.8 1086.1,451.9 1098.3,445.0 1098.3,442.0 1111.6,433.1 1125.4,441.4 1125.4,446.0 1160.9,460.7 1161.4,471.8 1128.2,486.2 1086.7,461.8" fill="none" stroke="#8e8440" stroke-width="0.7"/>
<path d="M1230.0,361.0 Q1134.9,400.2 1044.0,448.5" stroke="#3a3550" stroke-width="7.0" fill="none" stroke-linecap="butt"/>
<path d="M1228.9,358.8 Q1133.8,398.0 1042.9,446.3" stroke="#5c72b6" stroke-width="1.80" fill="none"/>
<path d="M1229.6,360.3 Q1134.5,399.5 1043.6,447.8" stroke="#8a3d98" stroke-width="1.80" fill="none"/>
<path d="M1230.4,361.7 Q1135.2,401.0 1044.4,449.2" stroke="#b59a5c" stroke-width="1.80" fill="none"/>
<path d="M1231.1,363.2 Q1135.9,402.5 1045.1,450.7" stroke="#8e8b3e" stroke-width="1.80" fill="none"/>
<path d="M1236.0,369.0 Q1143.0,406.2 1056.0,456.0" stroke="#3a3550" stroke-width="7.0" fill="none" stroke-linecap="butt"/>
<path d="M1234.9,366.8 Q1141.9,404.0 1054.9,453.8" stroke="#5d8a3e" stroke-width="1.80" fill="none"/>
<path d="M1235.6,368.3 Q1142.6,405.5 1055.6,455.3" stroke="#7f7d36" stroke-width="1.80" fill="none"/>
<path d="M1236.4,369.7 Q1143.3,406.9 1056.4,456.7" stroke="#6f6d2e" stroke-width="1.80" fill="none"/>
<path d="M1237.1,371.2 Q1144.0,408.4 1057.1,458.2" stroke="#2c2a56" stroke-width="1.80" fill="none"/>
<path d="M1236.0,365.0 Q1179.5,407.2 1123.0,449.5" stroke="#3a3550" stroke-width="7.0" fill="none" stroke-linecap="butt"/>
<path d="M1234.5,363.0 Q1178.0,405.3 1121.5,447.5" stroke="#5c72b6" stroke-width="1.80" fill="none"/>
<path d="M1235.5,364.3 Q1179.0,406.6 1122.5,448.8" stroke="#8a3d98" stroke-width="1.80" fill="none"/>
<path d="M1236.5,365.7 Q1180.0,407.9 1123.5,450.2" stroke="#b59a5c" stroke-width="1.80" fill="none"/>
<path d="M1237.5,367.0 Q1181.0,409.2 1124.5,451.5" stroke="#8e8b3e" stroke-width="1.80" fill="none"/>
<path d="M1245.0,373.0 Q1191.4,416.2 1136.0,457.0" stroke="#3a3550" stroke-width="7.0" fill="none" stroke-linecap="butt"/>
<path d="M1243.5,371.0 Q1189.9,414.2 1134.5,455.0" stroke="#5d8a3e" stroke-width="1.80" fill="none"/>
<path d="M1244.5,372.3 Q1190.9,415.5 1135.5,456.3" stroke="#7f7d36" stroke-width="1.80" fill="none"/>
<path d="M1245.5,373.7 Q1191.9,416.8 1136.5,457.7" stroke="#6f6d2e" stroke-width="1.80" fill="none"/>
<path d="M1246.5,375.0 Q1192.9,418.1 1137.5,459.0" stroke="#2c2a56" stroke-width="1.80" fill="none"/>
<line x1="1290" y1="314" x2="1297" y2="311" stroke="#d8d8d8" stroke-width="2.4" stroke-linecap="round"/>
<line x1="1318" y1="336" x2="1328" y2="331" stroke="#d8d8d8" stroke-width="2.4" stroke-linecap="round"/>
<polygon points="1226.9,337.6 1270.0,359.5 1271.5,384.0 1226.9,346.0" fill="#3a3a3e" stroke="#3a3a3e" stroke-width="0.35" stroke-linejoin="round"/>
<polygon points="1270.0,359.5 1322.8,333.7 1322.8,352.0 1300.0,364.0 1300.0,371.0 1271.5,384.0" fill="#2c2c30" stroke="#2c2c30" stroke-width="0.35" stroke-linejoin="round"/>
<polygon points="1226.9,337.6 1281.4,309.5 1322.8,333.7 1270.0,359.5" fill="#4a4a4e" stroke="#4a4a4e" stroke-width="0.35" stroke-linejoin="round"/>
<ellipse cx="1275.5" cy="318.5" rx="4.2" ry="2.6" fill="#424246" stroke="#38383c" stroke-width="0.6"/>
<ellipse cx="1236" cy="338.5" rx="4.2" ry="2.6" fill="#424246" stroke="#38383c" stroke-width="0.6"/>
<ellipse cx="1298" cy="340" rx="4.2" ry="2.6" fill="#424246" stroke="#38383c" stroke-width="0.6"/>
<ellipse cx="1268" cy="353.5" rx="4.2" ry="2.6" fill="#424246" stroke="#38383c" stroke-width="0.6"/>
<ellipse cx="1313.5" cy="333" rx="4.2" ry="2.6" fill="#424246" stroke="#38383c" stroke-width="0.6"/>
<path d="M1246,339 L1256,345 L1255,348 L1245,342 z" fill="#3c3c40"/>
<polygon points="1253.9,330.6 1265.0,323.5 1295.2,340.8 1283.5,348.5" fill="url(#gOrange)" stroke="url(#gOrange)" stroke-width="0.35" stroke-linejoin="round"/>
<polygon points="1262.0,357.0 1268.0,360.0 1270.5,384.0 1264.5,381.0" fill="#b9b4ae" stroke="#b9b4ae" stroke-width="0.35" stroke-linejoin="round"/>
<polygon points="1227.0,339.0 1231.0,341.0 1231.0,356.0 1227.0,353.0" fill="#8e8a86" stroke="#8e8a86" stroke-width="0.35" stroke-linejoin="round"/>
<polygon points="1222.3,352.3 1248.0,364.3 1251.7,382.6 1222.3,360.5" fill="#26262a" stroke="#26262a" stroke-width="0.35" stroke-linejoin="round"/>
<polygon points="1248.0,364.3 1262.8,356.0 1262.8,375.3 1251.7,382.6" fill="#1e1e22" stroke="#1e1e22" stroke-width="0.35" stroke-linejoin="round"/>
<polygon points="1222.3,352.3 1239.8,343.2 1262.8,356.0 1248.0,364.3" fill="#47474b" stroke="#47474b" stroke-width="0.35" stroke-linejoin="round"/>
<line x1="1236" y1="343.5" x2="1262" y2="357.5" stroke="#d9d6d0" stroke-width="1.3"/>
<circle cx="1263" cy="372.5" r="2.3" fill="#c8c4c0"/>
<circle cx="271.8" cy="745.2" r="138.4" fill="none" stroke="#e4e4e4" stroke-width="9.4"/>
<circle cx="772.0" cy="745.2" r="138.4" fill="none" stroke="#e4e4e4" stroke-width="9.4"/>
<circle cx="1237.3" cy="745.2" r="138.4" fill="none" stroke="#e4e4e4" stroke-width="9.4"/>
<line x1="240" y1="743.5" x2="204" y2="812" stroke="#cfcfcf" stroke-width="0.8"/>
<clipPath id="cm1"><circle cx="261.5" cy="697.3" r="48.6"/></clipPath>
<g clip-path="url(#cm1)">
<clipPath id="cm1b"><polygon points="200,640 325,640 325,708.5 200,679"/></clipPath>
<g clip-path="url(#cm1b)">
<polygon points="200.0,640.0 325.0,640.0 325.0,708.5 200.0,679.0" fill="#f5f5f5" stroke="#f5f5f5" stroke-width="0.35" stroke-linejoin="round"/>
<line x1="200" y1="628.0" x2="325" y2="657.0" stroke="#ececec" stroke-width="2.2"/>
<line x1="200" y1="634.0" x2="325" y2="663.0" stroke="#ececec" stroke-width="2.2"/>
<line x1="200" y1="640.0" x2="325" y2="669.0" stroke="#ececec" stroke-width="2.2"/>
<line x1="200" y1="646.0" x2="325" y2="675.0" stroke="#ececec" stroke-width="2.2"/>
<line x1="200" y1="652.0" x2="325" y2="681.0" stroke="#ececec" stroke-width="2.2"/>
<line x1="200" y1="658.0" x2="325" y2="687.0" stroke="#ececec" stroke-width="2.2"/>
<line x1="200" y1="664.0" x2="325" y2="693.0" stroke="#ececec" stroke-width="2.2"/>
<line x1="200" y1="670.0" x2="325" y2="699.0" stroke="#ececec" stroke-width="2.2"/>
<line x1="200" y1="676.0" x2="325" y2="705.0" stroke="#ececec" stroke-width="2.2"/>
<line x1="200" y1="682.0" x2="325" y2="711.0" stroke="#ececec" stroke-width="2.2"/>
<line x1="200" y1="688.0" x2="325" y2="717.0" stroke="#ececec" stroke-width="2.2"/>
<line x1="200" y1="694.0" x2="325" y2="723.0" stroke="#ececec" stroke-width="2.2"/>
</g>
<polygon points="255.0,648.0 290.0,652.0 320.0,664.0 320.0,640.0 250.0,640.0" fill="#d9d9d9" stroke="#d9d9d9" stroke-width="0.35" stroke-linejoin="round"/>
<line x1="210" y1="681" x2="315" y2="707.5" stroke="#b8aab8" stroke-width="1.4"/>
<polygon points="209.5,680.5 221.5,683.5 216.3,694.0" fill="#a89aa8" stroke="#a89aa8" stroke-width="0.35" stroke-linejoin="round"/>
<circle cx="216.1" cy="685.6" r="3.8" fill="#fafafa" stroke="#bdbdbd" stroke-width="0.6"/>
<circle cx="216.1" cy="684.4" r="0.7" fill="#777"/>
<circle cx="216.1" cy="686.8" r="0.7" fill="#777"/>
<polygon points="227.3,685.1 239.3,688.1 234.1,698.6" fill="#a89aa8" stroke="#a89aa8" stroke-width="0.35" stroke-linejoin="round"/>
<circle cx="233.9" cy="690.2" r="3.8" fill="#fafafa" stroke="#bdbdbd" stroke-width="0.6"/>
<circle cx="233.9" cy="689.0" r="0.7" fill="#777"/>
<circle cx="233.9" cy="691.4" r="0.7" fill="#777"/>
<polygon points="245.1,689.7 257.1,692.7 251.9,703.2" fill="#a89aa8" stroke="#a89aa8" stroke-width="0.35" stroke-linejoin="round"/>
<circle cx="251.7" cy="694.8" r="3.8" fill="#fafafa" stroke="#bdbdbd" stroke-width="0.6"/>
<circle cx="251.7" cy="693.6" r="0.7" fill="#777"/>
<circle cx="251.7" cy="696.0" r="0.7" fill="#777"/>
<polygon points="262.9,694.3 274.9,697.3 269.7,707.8" fill="#a89aa8" stroke="#a89aa8" stroke-width="0.35" stroke-linejoin="round"/>
<circle cx="269.5" cy="699.4" r="3.8" fill="#fafafa" stroke="#bdbdbd" stroke-width="0.6"/>
<circle cx="269.5" cy="698.2" r="0.7" fill="#777"/>
<circle cx="269.5" cy="700.6" r="0.7" fill="#777"/>
<polygon points="280.7,698.9 292.7,701.9 287.5,712.4" fill="#a89aa8" stroke="#a89aa8" stroke-width="0.35" stroke-linejoin="round"/>
<circle cx="287.3" cy="704.0" r="3.8" fill="#fafafa" stroke="#bdbdbd" stroke-width="0.6"/>
<circle cx="287.3" cy="702.8" r="0.7" fill="#777"/>
<circle cx="287.3" cy="705.2" r="0.7" fill="#777"/>
<polygon points="298.5,703.5 310.5,706.5 305.3,717.0" fill="#a89aa8" stroke="#a89aa8" stroke-width="0.35" stroke-linejoin="round"/>
<circle cx="305.1" cy="708.6" r="3.8" fill="#fafafa" stroke="#bdbdbd" stroke-width="0.6"/>
<circle cx="305.1" cy="707.4" r="0.7" fill="#777"/>
<circle cx="305.1" cy="709.8" r="0.7" fill="#777"/>
</g>
<circle cx="261.5" cy="697.3" r="48.6" fill="none" stroke="#d4d4d4" stroke-width="1"/>
<polygon points="192.2,812.0 192.6,818.5 209.7,827.3 228.0,819.5 228.0,813.0" fill="#b9b9bd" stroke="#b9b9bd" stroke-width="0.35" stroke-linejoin="round"/>
<polygon points="192.2,812.0 211.0,804.6 228.0,813.0 209.7,821.5" fill="#ececee" stroke="#ececee" stroke-width="0.35" stroke-linejoin="round"/>
<polygon points="214.0,806.5 222.0,803.0 234.5,812.0 228.0,819.0" fill="#dcdce2" opacity="0.9"/>
<polygon points="228.0,813.0 234.5,812.0 234.5,815.0 228.0,819.5" fill="#b0b0b8" stroke="#b0b0b8" stroke-width="0.35" stroke-linejoin="round"/>
<line x1="218.4" y1="806.7" x2="325.4" y2="743.7" stroke="#2e2b46" stroke-width="1.5"/>
<line x1="219.0" y1="807.8" x2="326.0" y2="744.8" stroke="#5a3a30" stroke-width="1.5"/>
<line x1="219.7" y1="808.9" x2="326.7" y2="745.9" stroke="#6e4a38" stroke-width="1.5"/>
<line x1="220.3" y1="810.1" x2="327.3" y2="747.1" stroke="#5e6e4a" stroke-width="1.5"/>
<line x1="221.0" y1="811.2" x2="328.0" y2="748.2" stroke="#7a8a62" stroke-width="1.5"/>
<line x1="221.6" y1="812.3" x2="328.6" y2="749.3" stroke="#54624a" stroke-width="1.5"/>
<line x1="355" y1="722.5" x2="359" y2="720.5" stroke="#d9d9d9" stroke-width="1.8" stroke-linecap="round"/>
<line x1="371" y1="733.5" x2="375" y2="731.5" stroke="#d9d9d9" stroke-width="1.8" stroke-linecap="round"/>
<polygon points="342.6,749.0 369.9,732.3 369.9,742.6 342.6,762.0" fill="#1f1f22" stroke="#1f1f22" stroke-width="0.35" stroke-linejoin="round"/>
<polygon points="316.5,733.4 342.6,749.0 342.6,762.0 318.0,748.0" fill="#2a2a2e" stroke="#2a2a2e" stroke-width="0.35" stroke-linejoin="round"/>
<polygon points="316.5,733.4 346.5,719.1 369.9,732.3 342.6,749.0" fill="#3e3e42" stroke="#3e3e42" stroke-width="0.35" stroke-linejoin="round"/>
<ellipse cx="345.5" cy="730.5" rx="7.5" ry="4.3" transform="rotate(32 345.5 730.5)" fill="#8c5424" stroke="#4a3a2c" stroke-width="1"/>
<ellipse cx="346" cy="730.5" rx="4.5" ry="2.6" transform="rotate(32 346 730.5)" fill="#b06a2a"/>
<polygon points="308.7,738.0 317.0,734.0 323.0,737.5 323.0,749.0 315.0,753.0 308.7,749.5" fill="#dcd8d2" stroke="#dcd8d2" stroke-width="0.35" stroke-linejoin="round"/>
<polygon points="310.5,741.0 316.0,738.5 316.0,748.0 310.5,750.0" fill="#8e8a86" stroke="#8e8a86" stroke-width="0.35" stroke-linejoin="round"/>
<polygon points="328.2,748.0 336.0,744.0 341.3,747.5 341.3,762.5 333.0,766.5 328.2,763.0" fill="#d8d4ce" stroke="#d8d4ce" stroke-width="0.35" stroke-linejoin="round"/>
<polygon points="330.0,751.0 335.0,748.5 335.0,762.0 330.0,764.0" fill="#8a8682" stroke="#8a8682" stroke-width="0.35" stroke-linejoin="round"/>
<line x1="724.3" y1="749.3" x2="688" y2="814" stroke="#d2d2d2" stroke-width="0.8"/>
<clipPath id="cm2"><circle cx="742.5" cy="707.2" r="44.2"/></clipPath>
<g clip-path="url(#cm2)">
<line x1="719.7" y1="688.4" x2="779.1" y2="652.1" stroke="#d2d2f2" stroke-width="3.2" stroke-linecap="round"/><polygon points="677.4,715.8 720.3,689.4 779.3,652.3 780.8,654.9 721.0,690.5 678.0,716.7" fill="#35353f" stroke="#35353f" stroke-width="0.35" stroke-linejoin="round"/>
<line x1="724.1" y1="695.6" x2="783.5" y2="659.3" stroke="#d2d2f2" stroke-width="3.2" stroke-linecap="round"/><polygon points="681.8,723.0 724.7,696.6 783.7,659.5 785.2,662.1 725.4,697.7 682.4,723.9" fill="#35353f" stroke="#35353f" stroke-width="0.35" stroke-linejoin="round"/>
<line x1="728.5" y1="702.8" x2="787.9" y2="666.4" stroke="#d2d2f2" stroke-width="3.2" stroke-linecap="round"/><polygon points="686.2,730.2 729.1,703.8 788.1,666.7 789.6,669.3 729.8,704.9 686.7,731.0" fill="#35353f" stroke="#35353f" stroke-width="0.35" stroke-linejoin="round"/>
<line x1="732.9" y1="710.0" x2="792.3" y2="673.6" stroke="#d2d2f2" stroke-width="3.2" stroke-linecap="round"/><polygon points="690.6,737.4 733.5,710.9 792.5,673.9 794.0,676.4 734.2,712.0 691.1,738.2" fill="#35353f" stroke="#35353f" stroke-width="0.35" stroke-linejoin="round"/>
<line x1="737.3" y1="717.1" x2="796.7" y2="680.8" stroke="#d2d2f2" stroke-width="3.2" stroke-linecap="round"/><polygon points="695.0,744.6 737.9,718.1 796.9,681.1 798.4,683.6 738.6,719.2 695.5,745.4" fill="#35353f" stroke="#35353f" stroke-width="0.35" stroke-linejoin="round"/>
<line x1="741.7" y1="724.3" x2="801.1" y2="688.0" stroke="#d2d2f2" stroke-width="3.2" stroke-linecap="round"/><polygon points="699.4,751.7 742.3,725.3 801.2,688.2 802.8,690.8 743.0,726.4 699.9,752.6" fill="#35353f" stroke="#35353f" stroke-width="0.35" stroke-linejoin="round"/>
<line x1="746.1" y1="731.5" x2="805.5" y2="695.2" stroke="#d2d2f2" stroke-width="3.2" stroke-linecap="round"/><polygon points="703.8,758.9 746.7,732.5 805.6,695.4 807.2,698.0 747.4,733.6 704.3,759.8" fill="#35353f" stroke="#35353f" stroke-width="0.35" stroke-linejoin="round"/>
<line x1="750.5" y1="738.7" x2="809.9" y2="702.4" stroke="#d2d2f2" stroke-width="3.2" stroke-linecap="round"/><polygon points="708.2,766.1 751.1,739.7 810.0,702.6 811.6,705.2 751.8,740.8 708.7,767.0" fill="#35353f" stroke="#35353f" stroke-width="0.35" stroke-linejoin="round"/>
</g>
<circle cx="742.5" cy="707.2" r="44.4" fill="none" stroke="#d8d8d8" stroke-width="1"/>
<polygon points="680.0,818.9 688.6,813.2 698.6,818.2 688.6,824.6" fill="#e6e6ea" stroke="#a8a8ae" stroke-width="0.7"/>
<line x1="692.5" y1="817" x2="818" y2="741.5" stroke="#6c584c" stroke-width="3.8"/>
<line x1="692.5" y1="816.4" x2="818" y2="740.9" stroke="#8a7566" stroke-width="1.2"/>
<polygon points="853.2,709.0 867.3,703.1 880.7,710.7 883.0,719.7 870.6,726.4 869.0,719.1" fill="#4a4a4d" stroke="#4a4a4d" stroke-width="0.35" stroke-linejoin="round"/>
<polygon points="853.2,709.0 867.3,703.1 880.7,710.7 869.0,719.1" fill="#5a5a5e" stroke="#5a5a5e" stroke-width="0.35" stroke-linejoin="round"/>
<line x1="861" y1="706.5" x2="875" y2="714.5" stroke="#3a3a3c" stroke-width="0.8"/>
<polygon points="869.0,719.1 880.7,710.7 883.0,719.7 870.6,726.4" fill="#3e3e42" stroke="#3e3e42" stroke-width="0.35" stroke-linejoin="round"/>
<polygon points="817.3,742.2 825.7,726.4 828.5,724.2 835.3,729.2 841.4,737.7 843.1,743.3 824.6,744.4" fill="#1e1e20" stroke="#1e1e20" stroke-width="0.35" stroke-linejoin="round"/>
<polygon points="826.3,725.3 831.3,723.1 846.5,729.8 847.6,742.2 843.1,743.8 838.1,731.0" fill="#58585c" stroke="#58585c" stroke-width="0.35" stroke-linejoin="round"/>
<polygon points="831.9,721.4 853.2,709.0 869.0,719.1 847.1,730.9" fill="#3ba7ac" stroke="#3ba7ac" stroke-width="0.35" stroke-linejoin="round"/>
<polygon points="847.1,730.9 869.0,719.1 870.6,726.4 849.3,739.4" fill="#2a9196" stroke="#2a9196" stroke-width="0.35" stroke-linejoin="round"/>
<line x1="836" y1="724" x2="851" y2="733" stroke="#2b8f94" stroke-width="0.7"/>
<line x1="1197.5" y1="763.5" x2="1175" y2="826" stroke="#d2d2d2" stroke-width="0.8"/>
<circle cx="1196.9" cy="711.3" r="50.5" fill="none" stroke="#d8d8d8" stroke-width="1"/>
<polygon points="1157.6,690.2 1163.0,686.5 1188.0,676.5 1194.0,676.0 1198.0,679.5 1203.0,681.5 1205.1,685.0 1205.1,692.5 1200.0,694.5 1197.0,693.0 1182.0,698.0 1179.0,702.5 1172.0,705.5 1166.0,705.0 1161.0,700.0 1157.6,696.5" fill="#131315" stroke="#131315" stroke-width="0.35" stroke-linejoin="round"/>
<polygon points="1163.0,686.5 1188.0,676.5 1194.0,676.0 1198.0,679.5 1172.0,689.5" fill="#2c2c30" stroke="#2c2c30" stroke-width="0.35" stroke-linejoin="round"/>
<polygon points="1198.0,679.5 1203.0,681.5 1205.1,685.0 1200.0,686.0" fill="#2a2a2e" stroke="#2a2a2e" stroke-width="0.35" stroke-linejoin="round"/>
<ellipse cx="1165.5" cy="693" rx="1.7" ry="2.8" fill="#fff"/>
<ellipse cx="1187.5" cy="683" rx="2.3" ry="1.5" fill="#fff"/>
<polygon points="1176.0,696.5 1180.0,695.0 1180.0,699.0 1177.0,700.5" fill="#fff" stroke="#fff" stroke-width="0.35" stroke-linejoin="round"/>
<line x1="1202" y1="705" x2="1244.5" y2="692.5" stroke="#7a5c58" stroke-width="3.8"/>
<line x1="1202" y1="704.2" x2="1244.5" y2="691.7" stroke="#b49a90" stroke-width="1"/>
<polygon points="1182.2,718.0 1187.0,716.5 1188.6,732.4 1183.5,733.5" fill="#b5473a" stroke="#b5473a" stroke-width="0.35" stroke-linejoin="round"/>
<polygon points="1161.1,732.4 1161.7,737.1 1174.0,741.8 1189.3,747.7 1209.8,741.8 1209.2,736.0" fill="#8d8722" stroke="#8d8722" stroke-width="0.35" stroke-linejoin="round"/>
<polygon points="1161.1,732.4 1174.0,725.4 1198.7,726.6 1209.2,736.0 1189.3,742.0 1174.0,737.0" fill="#c4bc30" stroke="#c4bc30" stroke-width="0.35" stroke-linejoin="round"/>
<ellipse cx="1170" cy="732" rx="1.3" ry="0.8" fill="#8f8922"/>
<ellipse cx="1180" cy="736" rx="1.3" ry="0.8" fill="#8f8922"/>
<ellipse cx="1192" cy="738" rx="1.3" ry="0.8" fill="#8f8922"/>
<ellipse cx="1200" cy="733" rx="1.3" ry="0.8" fill="#8f8922"/>
<ellipse cx="1188" cy="729" rx="1.3" ry="0.8" fill="#8f8922"/>
<polygon points="1182.2,720.1 1188.1,718.5 1188.6,730.0 1183.5,731.0" fill="#c0503e" stroke="#c0503e" stroke-width="0.35" stroke-linejoin="round"/>
<polygon points="1169.3,714.8 1172.8,720.1 1186.9,718.3 1208.0,714.2 1207.4,707.8" fill="#8f8a24" stroke="#8f8a24" stroke-width="0.35" stroke-linejoin="round"/>
<polygon points="1169.3,714.8 1198.7,703.1 1207.4,707.8 1186.9,716.0" fill="#c9c135" stroke="#c9c135" stroke-width="0.35" stroke-linejoin="round"/>
<polygon points="1178.0,711.5 1184.0,709.0 1187.0,711.0 1181.0,713.5" fill="#a7a02a" stroke="#a7a02a" stroke-width="0.35" stroke-linejoin="round"/>
<polygon points="1188.0,707.5 1194.0,705.0 1197.0,707.0 1191.0,709.5" fill="#a7a02a" stroke="#a7a02a" stroke-width="0.35" stroke-linejoin="round"/>
<polygon points="1166.3,828.7 1178.0,822.9 1183.9,826.8 1172.1,833.3" fill="#c8c038" stroke="#c8c038" stroke-width="0.35" stroke-linejoin="round"/>
<polygon points="1166.3,828.7 1172.1,833.3 1172.3,834.5 1166.5,830.0" fill="#8a8422" stroke="#8a8422" stroke-width="0.35" stroke-linejoin="round"/>
<line x1="1170" y1="827" x2="1177" y2="831" stroke="#9a9428" stroke-width="0.6"/>
<line x1="1173" y1="825.5" x2="1180" y2="829.5" stroke="#9a9428" stroke-width="0.6"/>
<line x1="1178" y1="825" x2="1272.5" y2="767" stroke="#4a3a3c" stroke-width="5"/>
<line x1="1178" y1="824" x2="1272.5" y2="766" stroke="#6a5456" stroke-width="1.4"/>
<polygon points="1312.7,729.4 1328.0,722.7 1343.9,731.5 1343.3,740.7 1328.6,749.3 1327.4,738.9" fill="#3a3a3d" stroke="#3a3a3d" stroke-width="0.35" stroke-linejoin="round"/>
<polygon points="1312.7,729.4 1328.0,722.7 1343.9,731.5 1327.4,738.9" fill="#4a4a4e" stroke="#4a4a4e" stroke-width="0.35" stroke-linejoin="round"/>
<line x1="1321" y1="725.5" x2="1337" y2="735" stroke="#2e2e30" stroke-width="0.8"/>
<polygon points="1327.4,738.9 1343.9,731.5 1343.3,740.7 1328.6,749.3" fill="#333336" stroke="#333336" stroke-width="0.35" stroke-linejoin="round"/>
<polygon points="1271.6,766.4 1278.4,757.9 1283.3,749.3 1288.8,748.1 1294.3,757.9 1299.2,768.3 1291.8,768.9 1275.9,768.9" fill="#1c1c1e" stroke="#1c1c1e" stroke-width="0.35" stroke-linejoin="round"/>
<polygon points="1283.3,746.8 1289.4,743.8 1294.3,746.8 1302.9,764.0 1299.2,768.3 1294.3,757.9" fill="#404043" stroke="#404043" stroke-width="0.35" stroke-linejoin="round"/>
<polygon points="1289.4,742.2 1304.1,752.4 1305.3,764.0 1294.3,757.3" fill="#23999e" stroke="#23999e" stroke-width="0.35" stroke-linejoin="round"/>
<polygon points="1289.4,742.2 1312.7,729.4 1327.4,738.9 1304.1,752.4" fill="#2aa6aa" stroke="#2aa6aa" stroke-width="0.35" stroke-linejoin="round"/>
<polygon points="1304.1,752.4 1327.4,738.9 1328.6,751.1 1305.3,764.0" fill="#1f8e93" stroke="#1f8e93" stroke-width="0.35" stroke-linejoin="round"/>
<line x1="1294" y1="745.5" x2="1309" y2="755" stroke="#1f8a8f" stroke-width="0.7"/>
<g opacity="0.995"><text x="74.0" y="930.5" font-family="Liberation Sans, sans-serif" font-size="24" fill="#141414" textLength="396.5" lengthAdjust="spacingAndGlyphs">Multi-Core Polarization-Maintaining</text>
<text x="179.5" y="962.5" font-family="Liberation Sans, sans-serif" font-size="24" fill="#141414" textLength="184.0" lengthAdjust="spacingAndGlyphs">MT-FA Assembly</text>
<text x="594.6" y="930.0" font-family="Liberation Sans, sans-serif" font-size="24" fill="#141414" textLength="354.0" lengthAdjust="spacingAndGlyphs">Multi-Core Optical Fiber MFD to</text>
<text x="670.6" y="962.8" font-family="Liberation Sans, sans-serif" font-size="24" fill="#141414" textLength="203.0" lengthAdjust="spacingAndGlyphs">MPO-FA Assembly</text>
<text x="1117.8" y="929.6" font-family="Liberation Sans, sans-serif" font-size="24" fill="#141414" textLength="238.6" lengthAdjust="spacingAndGlyphs">MPO-Prizm Assembly</text></g>
</svg>
</body></html>
